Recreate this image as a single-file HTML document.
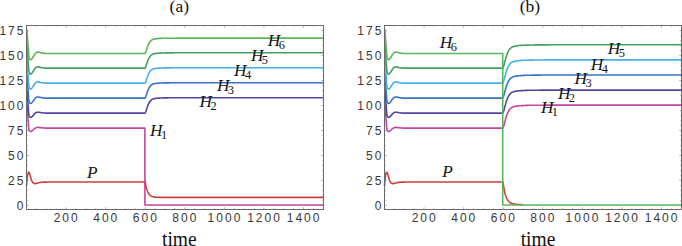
<!DOCTYPE html>
<html><head><meta charset="utf-8"><style>
html,body{margin:0;padding:0;background:#fff;}
body{width:682px;height:246px;overflow:hidden;}
svg{display:block;}
.tl{font-family:"Liberation Sans",sans-serif;font-size:12px;fill:#383838;letter-spacing:2px;}
.hl{font-family:"Liberation Serif",serif;font-style:italic;font-size:16px;fill:#151515;}
.sb{font-size:11.5px;font-style:normal;}
.ti{font-family:"Liberation Serif",serif;font-size:17.5px;fill:#111;}
.xl{font-family:"Liberation Serif",serif;font-size:19.5px;fill:#111;}
</style></head><body>
<svg width="682" height="246" viewBox="0 0 682 246">
<path d="M36.39 209.50 V208.30 M36.39 25.50 V26.70 M46.29 209.50 V208.30 M46.29 25.50 V26.70 M56.18 209.50 V208.30 M56.18 25.50 V26.70 M66.07 209.50 V207.30 M66.07 25.50 V27.70 M75.97 209.50 V208.30 M75.97 25.50 V26.70 M85.86 209.50 V208.30 M85.86 25.50 V26.70 M95.75 209.50 V208.30 M95.75 25.50 V26.70 M105.65 209.50 V207.30 M105.65 25.50 V27.70 M115.54 209.50 V208.30 M115.54 25.50 V26.70 M125.43 209.50 V208.30 M125.43 25.50 V26.70 M135.33 209.50 V208.30 M135.33 25.50 V26.70 M145.22 209.50 V207.30 M145.22 25.50 V27.70 M155.11 209.50 V208.30 M155.11 25.50 V26.70 M165.01 209.50 V208.30 M165.01 25.50 V26.70 M174.90 209.50 V208.30 M174.90 25.50 V26.70 M184.79 209.50 V207.30 M184.79 25.50 V27.70 M194.69 209.50 V208.30 M194.69 25.50 V26.70 M204.58 209.50 V208.30 M204.58 25.50 V26.70 M214.47 209.50 V208.30 M214.47 25.50 V26.70 M224.37 209.50 V207.30 M224.37 25.50 V27.70 M234.26 209.50 V208.30 M234.26 25.50 V26.70 M244.15 209.50 V208.30 M244.15 25.50 V26.70 M254.05 209.50 V208.30 M254.05 25.50 V26.70 M263.94 209.50 V207.30 M263.94 25.50 V27.70 M273.83 209.50 V208.30 M273.83 25.50 V26.70 M283.73 209.50 V208.30 M283.73 25.50 V26.70 M293.62 209.50 V208.30 M293.62 25.50 V26.70 M303.51 209.50 V207.30 M303.51 25.50 V27.70 M313.41 209.50 V208.30 M313.41 25.50 V26.70 M26.50 205.40 H28.70 M323.50 205.40 H321.30 M26.50 200.41 H27.70 M323.50 200.41 H322.30 M26.50 195.41 H27.70 M323.50 195.41 H322.30 M26.50 190.41 H27.70 M323.50 190.41 H322.30 M26.50 185.42 H27.70 M323.50 185.42 H322.30 M26.50 180.43 H28.70 M323.50 180.43 H321.30 M26.50 175.43 H27.70 M323.50 175.43 H322.30 M26.50 170.44 H27.70 M323.50 170.44 H322.30 M26.50 165.44 H27.70 M323.50 165.44 H322.30 M26.50 160.45 H27.70 M323.50 160.45 H322.30 M26.50 155.45 H28.70 M323.50 155.45 H321.30 M26.50 150.46 H27.70 M323.50 150.46 H322.30 M26.50 145.46 H27.70 M323.50 145.46 H322.30 M26.50 140.47 H27.70 M323.50 140.47 H322.30 M26.50 135.47 H27.70 M323.50 135.47 H322.30 M26.50 130.47 H28.70 M323.50 130.47 H321.30 M26.50 125.48 H27.70 M323.50 125.48 H322.30 M26.50 120.48 H27.70 M323.50 120.48 H322.30 M26.50 115.49 H27.70 M323.50 115.49 H322.30 M26.50 110.50 H27.70 M323.50 110.50 H322.30 M26.50 105.50 H28.70 M323.50 105.50 H321.30 M26.50 100.51 H27.70 M323.50 100.51 H322.30 M26.50 95.51 H27.70 M323.50 95.51 H322.30 M26.50 90.52 H27.70 M323.50 90.52 H322.30 M26.50 85.52 H27.70 M323.50 85.52 H322.30 M26.50 80.53 H28.70 M323.50 80.53 H321.30 M26.50 75.53 H27.70 M323.50 75.53 H322.30 M26.50 70.53 H27.70 M323.50 70.53 H322.30 M26.50 65.54 H27.70 M323.50 65.54 H322.30 M26.50 60.55 H27.70 M323.50 60.55 H322.30 M26.50 55.55 H28.70 M323.50 55.55 H321.30 M26.50 50.55 H27.70 M323.50 50.55 H322.30 M26.50 45.56 H27.70 M323.50 45.56 H322.30 M26.50 40.56 H27.70 M323.50 40.56 H322.30 M26.50 35.57 H27.70 M323.50 35.57 H322.30 M26.50 30.58 H28.70 M323.50 30.58 H321.30" stroke="#999" stroke-width="0.8" fill="none"/>
<g fill="none" stroke-width="1.60" stroke-linejoin="round">
<path stroke="#c246a0" d="M26.5 103.8 L26.7 104.2 L26.9 104.8 L27.1 106.7 L27.3 109.9 L27.5 113.0 L27.7 115.5 L27.9 117.8 L28.1 120.1 L28.3 122.8 L28.5 125.7 L28.7 128.2 L28.9 129.6 L29.1 130.1 L29.3 130.5 L29.5 130.8 L29.7 131.0 L29.9 131.2 L30.1 131.3 L30.3 131.4 L30.5 131.5 L30.7 131.5 L30.9 131.4 L31.1 131.4 L31.2 131.3 L31.4 131.2 L31.6 131.1 L31.8 131.0 L32.0 130.8 L32.2 130.7 L32.4 130.5 L32.6 130.4 L32.8 130.2 L33.0 130.0 L33.2 129.9 L33.4 129.7 L33.6 129.5 L33.8 129.3 L34.0 129.1 L34.2 129.0 L34.4 128.8 L34.6 128.6 L34.8 128.5 L35.0 128.3 L35.2 128.2 L35.4 128.1 L35.6 128.0 L35.8 127.8 L36.0 127.7 L36.2 127.7 L36.4 127.6 L36.6 127.6 L36.8 127.5 L37.0 127.5 L37.2 127.4 L37.4 127.4 L37.6 127.4 L37.8 127.4 L38.0 127.4 L38.2 127.4 L38.4 127.4 L38.6 127.4 L38.8 127.4 L39.0 127.4 L39.2 127.5 L39.4 127.5 L39.6 127.5 L39.8 127.5 L40.0 127.6 L40.2 127.6 L40.4 127.6 L40.5 127.7 L40.7 127.7 L40.9 127.7 L41.1 127.7 L41.3 127.8 L41.5 127.8 L41.7 127.8 L41.9 127.9 L42.1 127.9 L42.3 127.9 L42.5 127.9 L42.7 127.9 L42.9 128.0 L43.1 128.0 L43.3 128.0 L43.5 128.0 L43.7 128.0 L43.9 128.0 L44.1 128.0 L44.3 128.0 L44.5 128.0 L44.7 128.0 L44.9 128.1 L45.1 128.1 L45.3 128.1 L45.5 128.1 L45.7 128.1 L45.9 128.1 L46.1 128.1 L46.3 128.1 L46.5 128.1 L46.7 128.1 L46.9 128.1 L47.1 128.1 L47.3 128.1 L47.5 128.1 L47.7 128.1 L47.9 128.1 L48.1 128.1 L48.3 128.1 L48.5 128.1 L48.7 128.1 L48.9 128.1 L49.1 128.1 L49.3 128.1 L49.5 128.1 L49.7 128.1 L49.8 128.1 L50.0 128.1 L50.2 128.1 L54.2 128.1 L58.2 128.1 L62.1 128.1 L66.1 128.1 L70.0 128.1 L74.0 128.1 L77.9 128.1 L81.9 128.1 L85.9 128.1 L89.8 128.1 L93.8 128.1 L97.7 128.1 L101.7 128.1 L105.6 128.1 L109.6 128.1 L113.6 128.1 L117.5 128.1 L121.5 128.1 L125.4 128.1 L129.4 128.1 L133.3 128.1 L137.3 128.1 L141.3 128.1 L144.9 128.1 L144.9 205.0 L145.1 205.0 L145.3 205.0 L145.5 205.0 L145.7 205.0 L145.9 205.0 L146.1 205.0 L146.3 205.0 L146.5 205.0 L146.7 205.0 L146.9 205.0 L147.1 205.0 L147.3 205.0 L147.5 205.0 L147.7 205.0 L147.9 205.0 L148.1 205.0 L148.3 205.0 L148.5 205.0 L148.7 205.0 L148.9 205.0 L149.1 205.0 L149.3 205.0 L149.5 205.0 L149.7 205.0 L149.9 205.0 L150.1 205.0 L150.3 205.0 L150.5 205.0 L150.7 205.0 L150.9 205.0 L151.1 205.0 L151.3 205.0 L151.5 205.0 L151.7 205.0 L151.8 205.0 L152.0 205.0 L152.2 205.0 L152.4 205.0 L152.6 205.0 L152.8 205.0 L153.0 205.0 L153.2 205.0 L153.4 205.0 L153.6 205.0 L153.8 205.0 L154.0 205.0 L154.2 205.0 L154.4 205.0 L154.6 205.0 L154.8 205.0 L155.0 205.0 L155.2 205.0 L155.4 205.0 L155.6 205.0 L155.8 205.0 L156.0 205.0 L156.2 205.0 L156.4 205.0 L156.6 205.0 L156.8 205.0 L157.0 205.0 L157.2 205.0 L157.4 205.0 L157.6 205.0 L157.8 205.0 L158.0 205.0 L158.2 205.0 L158.4 205.0 L158.6 205.0 L158.8 205.0 L159.0 205.0 L159.2 205.0 L159.4 205.0 L159.6 205.0 L159.8 205.0 L160.0 205.0 L160.2 205.0 L160.4 205.0 L160.6 205.0 L160.8 205.0 L161.0 205.0 L161.1 205.0 L161.3 205.0 L161.5 205.0 L161.7 205.0 L161.9 205.0 L162.1 205.0 L162.3 205.0 L162.5 205.0 L162.7 205.0 L162.9 205.0 L163.1 205.0 L163.3 205.0 L163.5 205.0 L163.7 205.0 L163.9 205.0 L164.1 205.0 L164.3 205.0 L164.5 205.0 L164.7 205.0 L164.9 205.0 L165.1 205.0 L165.3 205.0 L165.5 205.0 L165.7 205.0 L165.9 205.0 L166.1 205.0 L166.3 205.0 L166.5 205.0 L166.7 205.0 L166.9 205.0 L167.1 205.0 L167.3 205.0 L167.5 205.0 L167.7 205.0 L167.9 205.0 L168.1 205.0 L168.3 205.0 L168.5 205.0 L168.7 205.0 L168.9 205.0 L169.1 205.0 L169.3 205.0 L169.5 205.0 L169.7 205.0 L169.9 205.0 L170.1 205.0 L170.3 205.0 L170.4 205.0 L170.6 205.0 L170.8 205.0 L171.0 205.0 L171.2 205.0 L171.4 205.0 L171.6 205.0 L171.8 205.0 L172.0 205.0 L172.2 205.0 L172.4 205.0 L172.6 205.0 L172.8 205.0 L173.0 205.0 L173.2 205.0 L173.4 205.0 L173.6 205.0 L173.8 205.0 L174.0 205.0 L174.2 205.0 L174.4 205.0 L174.6 205.0 L174.8 205.0 L175.0 205.0 L175.2 205.0 L175.4 205.0 L175.6 205.0 L175.8 205.0 L176.0 205.0 L176.2 205.0 L176.4 205.0 L176.6 205.0 L176.8 205.0 L177.0 205.0 L177.2 205.0 L177.4 205.0 L177.6 205.0 L177.8 205.0 L178.0 205.0 L178.2 205.0 L178.4 205.0 L178.6 205.0 L178.8 205.0 L179.0 205.0 L179.2 205.0 L179.4 205.0 L179.5 205.0 L179.7 205.0 L179.9 205.0 L180.1 205.0 L180.3 205.0 L180.5 205.0 L180.7 205.0 L180.9 205.0 L181.1 205.0 L181.3 205.0 L181.5 205.0 L181.7 205.0 L181.9 205.0 L182.1 205.0 L182.3 205.0 L182.5 205.0 L182.7 205.0 L182.9 205.0 L183.1 205.0 L183.3 205.0 L183.5 205.0 L183.7 205.0 L183.9 205.0 L184.1 205.0 L184.3 205.0 L184.5 205.0 L188.5 205.0 L192.4 205.0 L196.4 205.0 L200.3 205.0 L204.3 205.0 L208.2 205.0 L212.2 205.0 L216.2 205.0 L220.1 205.0 L224.1 205.0 L228.0 205.0 L232.0 205.0 L235.9 205.0 L239.9 205.0 L243.9 205.0 L247.8 205.0 L251.8 205.0 L255.7 205.0 L259.7 205.0 L263.6 205.0 L267.6 205.0 L271.6 205.0 L275.5 205.0 L279.5 205.0 L283.4 205.0 L287.4 205.0 L291.3 205.0 L295.3 205.0 L299.3 205.0 L303.2 205.0 L307.2 205.0 L311.1 205.0 L315.1 205.0 L319.0 205.0 L323.0 205.0 L323.3 205.0"/>
<path stroke="#5045a4" d="M26.5 88.8 L26.7 89.2 L26.9 89.8 L27.1 91.7 L27.3 95.0 L27.5 98.0 L27.7 100.5 L27.9 102.7 L28.1 105.1 L28.3 107.9 L28.5 110.9 L28.7 113.5 L28.9 115.1 L29.1 115.7 L29.3 116.2 L29.5 116.6 L29.7 116.9 L29.9 117.1 L30.1 117.3 L30.3 117.4 L30.5 117.5 L30.7 117.5 L30.9 117.4 L31.1 117.3 L31.2 117.3 L31.4 117.2 L31.6 117.0 L31.8 116.8 L32.0 116.7 L32.2 116.5 L32.4 116.3 L32.6 116.1 L32.8 115.8 L33.0 115.6 L33.2 115.4 L33.4 115.2 L33.6 114.9 L33.8 114.7 L34.0 114.5 L34.2 114.2 L34.4 114.0 L34.6 113.8 L34.8 113.6 L35.0 113.4 L35.2 113.3 L35.4 113.1 L35.6 112.9 L35.8 112.8 L36.0 112.7 L36.2 112.6 L36.4 112.5 L36.6 112.4 L36.8 112.4 L37.0 112.3 L37.2 112.3 L37.4 112.2 L37.6 112.2 L37.8 112.2 L38.0 112.2 L38.2 112.2 L38.4 112.2 L38.6 112.2 L38.8 112.2 L39.0 112.3 L39.2 112.3 L39.4 112.3 L39.6 112.4 L39.8 112.4 L40.0 112.4 L40.2 112.5 L40.4 112.5 L40.5 112.5 L40.7 112.6 L40.9 112.6 L41.1 112.7 L41.3 112.7 L41.5 112.7 L41.7 112.8 L41.9 112.8 L42.1 112.8 L42.3 112.9 L42.5 112.9 L42.7 112.9 L42.9 112.9 L43.1 112.9 L43.3 113.0 L43.5 113.0 L43.7 113.0 L43.9 113.0 L44.1 113.0 L44.3 113.0 L44.5 113.0 L44.7 113.1 L44.9 113.1 L45.1 113.1 L45.3 113.1 L45.5 113.1 L45.7 113.1 L45.9 113.1 L46.1 113.1 L46.3 113.1 L46.5 113.1 L46.7 113.1 L46.9 113.1 L47.1 113.1 L47.3 113.1 L47.5 113.1 L47.7 113.1 L47.9 113.1 L48.1 113.1 L48.3 113.1 L48.5 113.1 L48.7 113.1 L48.9 113.1 L49.1 113.1 L49.3 113.1 L49.5 113.1 L49.7 113.1 L49.8 113.1 L50.0 113.1 L50.2 113.1 L54.2 113.1 L58.2 113.1 L62.1 113.1 L66.1 113.1 L70.0 113.1 L74.0 113.1 L77.9 113.1 L81.9 113.1 L85.9 113.1 L89.8 113.1 L93.8 113.1 L97.7 113.1 L101.7 113.1 L105.6 113.1 L109.6 113.1 L113.6 113.1 L117.5 113.1 L121.5 113.1 L125.4 113.1 L129.4 113.1 L133.3 113.1 L137.3 113.1 L141.3 113.1 L144.9 113.1 L144.9 113.1 L145.1 113.0 L145.3 112.7 L145.5 112.3 L145.7 111.8 L145.9 111.3 L146.1 110.7 L146.3 110.1 L146.5 109.5 L146.7 108.9 L146.9 108.2 L147.1 107.6 L147.3 107.1 L147.5 106.5 L147.7 105.9 L147.9 105.4 L148.1 104.9 L148.3 104.4 L148.5 104.0 L148.7 103.6 L148.9 103.2 L149.1 102.8 L149.3 102.5 L149.5 102.1 L149.7 101.8 L149.9 101.6 L150.1 101.3 L150.3 101.0 L150.5 100.8 L150.7 100.6 L150.9 100.4 L151.1 100.2 L151.3 100.1 L151.5 99.9 L151.7 99.8 L151.8 99.6 L152.0 99.5 L152.2 99.4 L152.4 99.3 L152.6 99.2 L152.8 99.1 L153.0 99.0 L153.2 99.0 L153.4 98.9 L153.6 98.8 L153.8 98.8 L154.0 98.7 L154.2 98.7 L154.4 98.6 L154.6 98.6 L154.8 98.5 L155.0 98.5 L155.2 98.5 L155.4 98.4 L155.6 98.4 L155.8 98.4 L156.0 98.4 L156.2 98.3 L156.4 98.3 L156.6 98.3 L156.8 98.3 L157.0 98.2 L157.2 98.2 L157.4 98.2 L157.6 98.2 L157.8 98.2 L158.0 98.2 L158.2 98.1 L158.4 98.1 L158.6 98.1 L158.8 98.1 L159.0 98.1 L159.2 98.1 L159.4 98.1 L159.6 98.1 L159.8 98.1 L160.0 98.1 L160.2 98.0 L160.4 98.0 L160.6 98.0 L160.8 98.0 L161.0 98.0 L161.1 98.0 L161.3 98.0 L161.5 98.0 L161.7 98.0 L161.9 98.0 L162.1 98.0 L162.3 98.0 L162.5 98.0 L162.7 98.0 L162.9 98.0 L163.1 97.9 L163.3 97.9 L163.5 97.9 L163.7 97.9 L163.9 97.9 L164.1 97.9 L164.3 97.9 L164.5 97.9 L164.7 97.9 L164.9 97.9 L165.1 97.9 L165.3 97.9 L165.5 97.9 L165.7 97.9 L165.9 97.9 L166.1 97.9 L166.3 97.9 L166.5 97.9 L166.7 97.9 L166.9 97.9 L167.1 97.9 L167.3 97.9 L167.5 97.9 L167.7 97.9 L167.9 97.9 L168.1 97.9 L168.3 97.9 L168.5 97.9 L168.7 97.8 L168.9 97.8 L169.1 97.8 L169.3 97.8 L169.5 97.8 L169.7 97.8 L169.9 97.8 L170.1 97.8 L170.3 97.8 L170.4 97.8 L170.6 97.8 L170.8 97.8 L171.0 97.8 L171.2 97.8 L171.4 97.8 L171.6 97.8 L171.8 97.8 L172.0 97.8 L172.2 97.8 L172.4 97.8 L172.6 97.8 L172.8 97.8 L173.0 97.8 L173.2 97.8 L173.4 97.8 L173.6 97.8 L173.8 97.8 L174.0 97.8 L174.2 97.8 L174.4 97.8 L174.6 97.8 L174.8 97.8 L175.0 97.8 L175.2 97.8 L175.4 97.8 L175.6 97.8 L175.8 97.8 L176.0 97.8 L176.2 97.8 L176.4 97.8 L176.6 97.8 L176.8 97.8 L177.0 97.8 L177.2 97.8 L177.4 97.8 L177.6 97.8 L177.8 97.8 L178.0 97.8 L178.2 97.8 L178.4 97.8 L178.6 97.8 L178.8 97.8 L179.0 97.8 L179.2 97.8 L179.4 97.8 L179.5 97.8 L179.7 97.8 L179.9 97.8 L180.1 97.8 L180.3 97.8 L180.5 97.8 L180.7 97.8 L180.9 97.8 L181.1 97.8 L181.3 97.8 L181.5 97.8 L181.7 97.8 L181.9 97.8 L182.1 97.8 L182.3 97.8 L182.5 97.8 L182.7 97.8 L182.9 97.8 L183.1 97.8 L183.3 97.8 L183.5 97.8 L183.7 97.8 L183.9 97.8 L184.1 97.8 L184.3 97.8 L184.5 97.8 L188.5 97.8 L192.4 97.8 L196.4 97.8 L200.3 97.8 L204.3 97.8 L208.2 97.8 L212.2 97.8 L216.2 97.8 L220.1 97.8 L224.1 97.8 L228.0 97.8 L232.0 97.8 L235.9 97.8 L239.9 97.8 L243.9 97.8 L247.8 97.8 L251.8 97.8 L255.7 97.8 L259.7 97.8 L263.6 97.8 L267.6 97.8 L271.6 97.8 L275.5 97.8 L279.5 97.8 L283.4 97.8 L287.4 97.8 L291.3 97.8 L295.3 97.8 L299.3 97.8 L303.2 97.8 L307.2 97.8 L311.1 97.8 L315.1 97.8 L319.0 97.8 L323.0 97.8 L323.3 97.8"/>
<path stroke="#3574c4" d="M26.5 73.8 L26.7 74.2 L26.9 74.8 L27.1 76.7 L27.3 80.0 L27.5 83.1 L27.7 85.5 L27.9 87.7 L28.1 90.1 L28.3 92.9 L28.5 96.1 L28.7 98.9 L28.9 100.5 L29.1 101.3 L29.3 102.0 L29.5 102.4 L29.7 102.7 L29.9 103.0 L30.1 103.3 L30.3 103.4 L30.5 103.5 L30.7 103.5 L30.9 103.4 L31.1 103.3 L31.2 103.2 L31.4 103.1 L31.6 102.9 L31.8 102.7 L32.0 102.5 L32.2 102.2 L32.4 102.0 L32.6 101.7 L32.8 101.5 L33.0 101.2 L33.2 100.9 L33.4 100.6 L33.6 100.4 L33.8 100.1 L34.0 99.8 L34.2 99.5 L34.4 99.2 L34.6 99.0 L34.8 98.8 L35.0 98.5 L35.2 98.3 L35.4 98.1 L35.6 97.9 L35.8 97.7 L36.0 97.6 L36.2 97.4 L36.4 97.4 L36.6 97.3 L36.8 97.2 L37.0 97.1 L37.2 97.1 L37.4 97.0 L37.6 97.0 L37.8 97.0 L38.0 97.0 L38.2 97.0 L38.4 97.0 L38.6 97.0 L38.8 97.1 L39.0 97.1 L39.2 97.1 L39.4 97.2 L39.6 97.2 L39.8 97.3 L40.0 97.3 L40.2 97.3 L40.4 97.4 L40.5 97.4 L40.7 97.5 L40.9 97.5 L41.1 97.6 L41.3 97.6 L41.5 97.7 L41.7 97.7 L41.9 97.8 L42.1 97.8 L42.3 97.8 L42.5 97.9 L42.7 97.9 L42.9 97.9 L43.1 97.9 L43.3 97.9 L43.5 98.0 L43.7 98.0 L43.9 98.0 L44.1 98.0 L44.3 98.0 L44.5 98.0 L44.7 98.1 L44.9 98.1 L45.1 98.1 L45.3 98.1 L45.5 98.1 L45.7 98.1 L45.9 98.1 L46.1 98.1 L46.3 98.1 L46.5 98.1 L46.7 98.1 L46.9 98.1 L47.1 98.1 L47.3 98.1 L47.5 98.1 L47.7 98.1 L47.9 98.1 L48.1 98.1 L48.3 98.1 L48.5 98.1 L48.7 98.1 L48.9 98.1 L49.1 98.1 L49.3 98.1 L49.5 98.1 L49.7 98.1 L49.8 98.1 L50.0 98.1 L50.2 98.1 L54.2 98.1 L58.2 98.1 L62.1 98.1 L66.1 98.1 L70.0 98.1 L74.0 98.1 L77.9 98.1 L81.9 98.1 L85.9 98.1 L89.8 98.1 L93.8 98.1 L97.7 98.1 L101.7 98.1 L105.6 98.1 L109.6 98.1 L113.6 98.1 L117.5 98.1 L121.5 98.1 L125.4 98.1 L129.4 98.1 L133.3 98.1 L137.3 98.1 L141.3 98.1 L144.9 98.1 L144.9 98.1 L145.1 98.0 L145.3 97.7 L145.5 97.3 L145.7 96.8 L145.9 96.3 L146.1 95.7 L146.3 95.1 L146.5 94.5 L146.7 93.9 L146.9 93.3 L147.1 92.7 L147.3 92.1 L147.5 91.5 L147.7 90.9 L147.9 90.4 L148.1 89.9 L148.3 89.5 L148.5 89.0 L148.7 88.6 L148.9 88.2 L149.1 87.8 L149.3 87.5 L149.5 87.1 L149.7 86.8 L149.9 86.6 L150.1 86.3 L150.3 86.1 L150.5 85.8 L150.7 85.6 L150.9 85.4 L151.1 85.3 L151.3 85.1 L151.5 84.9 L151.7 84.8 L151.8 84.7 L152.0 84.5 L152.2 84.4 L152.4 84.3 L152.6 84.2 L152.8 84.1 L153.0 84.1 L153.2 84.0 L153.4 83.9 L153.6 83.9 L153.8 83.8 L154.0 83.7 L154.2 83.7 L154.4 83.6 L154.6 83.6 L154.8 83.6 L155.0 83.5 L155.2 83.5 L155.4 83.5 L155.6 83.4 L155.8 83.4 L156.0 83.4 L156.2 83.3 L156.4 83.3 L156.6 83.3 L156.8 83.3 L157.0 83.3 L157.2 83.2 L157.4 83.2 L157.6 83.2 L157.8 83.2 L158.0 83.2 L158.2 83.2 L158.4 83.1 L158.6 83.1 L158.8 83.1 L159.0 83.1 L159.2 83.1 L159.4 83.1 L159.6 83.1 L159.8 83.1 L160.0 83.1 L160.2 83.1 L160.4 83.0 L160.6 83.0 L160.8 83.0 L161.0 83.0 L161.1 83.0 L161.3 83.0 L161.5 83.0 L161.7 83.0 L161.9 83.0 L162.1 83.0 L162.3 83.0 L162.5 83.0 L162.7 83.0 L162.9 83.0 L163.1 83.0 L163.3 83.0 L163.5 83.0 L163.7 82.9 L163.9 82.9 L164.1 82.9 L164.3 82.9 L164.5 82.9 L164.7 82.9 L164.9 82.9 L165.1 82.9 L165.3 82.9 L165.5 82.9 L165.7 82.9 L165.9 82.9 L166.1 82.9 L166.3 82.9 L166.5 82.9 L166.7 82.9 L166.9 82.9 L167.1 82.9 L167.3 82.9 L167.5 82.9 L167.7 82.9 L167.9 82.9 L168.1 82.9 L168.3 82.9 L168.5 82.9 L168.7 82.9 L168.9 82.9 L169.1 82.9 L169.3 82.9 L169.5 82.9 L169.7 82.9 L169.9 82.9 L170.1 82.8 L170.3 82.8 L170.4 82.8 L170.6 82.8 L170.8 82.8 L171.0 82.8 L171.2 82.8 L171.4 82.8 L171.6 82.8 L171.8 82.8 L172.0 82.8 L172.2 82.8 L172.4 82.8 L172.6 82.8 L172.8 82.8 L173.0 82.8 L173.2 82.8 L173.4 82.8 L173.6 82.8 L173.8 82.8 L174.0 82.8 L174.2 82.8 L174.4 82.8 L174.6 82.8 L174.8 82.8 L175.0 82.8 L175.2 82.8 L175.4 82.8 L175.6 82.8 L175.8 82.8 L176.0 82.8 L176.2 82.8 L176.4 82.8 L176.6 82.8 L176.8 82.8 L177.0 82.8 L177.2 82.8 L177.4 82.8 L177.6 82.8 L177.8 82.8 L178.0 82.8 L178.2 82.8 L178.4 82.8 L178.6 82.8 L178.8 82.8 L179.0 82.8 L179.2 82.8 L179.4 82.8 L179.5 82.8 L179.7 82.8 L179.9 82.8 L180.1 82.8 L180.3 82.8 L180.5 82.8 L180.7 82.8 L180.9 82.8 L181.1 82.8 L181.3 82.8 L181.5 82.8 L181.7 82.8 L181.9 82.8 L182.1 82.8 L182.3 82.8 L182.5 82.8 L182.7 82.8 L182.9 82.8 L183.1 82.8 L183.3 82.8 L183.5 82.8 L183.7 82.8 L183.9 82.8 L184.1 82.8 L184.3 82.8 L184.5 82.8 L188.5 82.8 L192.4 82.8 L196.4 82.8 L200.3 82.8 L204.3 82.8 L208.2 82.8 L212.2 82.8 L216.2 82.8 L220.1 82.8 L224.1 82.8 L228.0 82.8 L232.0 82.8 L235.9 82.8 L239.9 82.8 L243.9 82.8 L247.8 82.8 L251.8 82.8 L255.7 82.8 L259.7 82.8 L263.6 82.8 L267.6 82.8 L271.6 82.8 L275.5 82.8 L279.5 82.8 L283.4 82.8 L287.4 82.8 L291.3 82.8 L295.3 82.8 L299.3 82.8 L303.2 82.8 L307.2 82.8 L311.1 82.8 L315.1 82.8 L319.0 82.8 L323.0 82.8 L323.3 82.8"/>
<path stroke="#44b0ea" d="M26.5 58.8 L26.7 59.3 L26.9 59.8 L27.1 61.7 L27.3 65.0 L27.5 68.1 L27.7 70.5 L27.9 72.7 L28.1 75.1 L28.3 78.0 L28.5 81.2 L28.7 84.1 L28.9 85.8 L29.1 86.7 L29.3 87.4 L29.5 87.9 L29.7 88.3 L29.9 88.6 L30.1 88.9 L30.3 89.0 L30.5 89.1 L30.7 89.1 L30.9 89.0 L31.1 88.9 L31.2 88.8 L31.4 88.7 L31.6 88.5 L31.8 88.2 L32.0 88.0 L32.2 87.7 L32.4 87.4 L32.6 87.2 L32.8 86.9 L33.0 86.6 L33.2 86.3 L33.4 85.9 L33.6 85.6 L33.8 85.3 L34.0 85.0 L34.2 84.7 L34.4 84.4 L34.6 84.1 L34.8 83.8 L35.0 83.6 L35.2 83.4 L35.4 83.1 L35.6 82.9 L35.8 82.7 L36.0 82.5 L36.2 82.4 L36.4 82.3 L36.6 82.2 L36.8 82.1 L37.0 82.1 L37.2 82.0 L37.4 81.9 L37.6 81.9 L37.8 81.9 L38.0 81.9 L38.2 81.9 L38.4 81.9 L38.6 81.9 L38.8 81.9 L39.0 82.0 L39.2 82.0 L39.4 82.1 L39.6 82.1 L39.8 82.2 L40.0 82.2 L40.2 82.3 L40.4 82.3 L40.5 82.4 L40.7 82.4 L40.9 82.5 L41.1 82.5 L41.3 82.6 L41.5 82.7 L41.7 82.7 L41.9 82.7 L42.1 82.8 L42.3 82.8 L42.5 82.9 L42.7 82.9 L42.9 82.9 L43.1 82.9 L43.3 82.9 L43.5 83.0 L43.7 83.0 L43.9 83.0 L44.1 83.0 L44.3 83.0 L44.5 83.0 L44.7 83.1 L44.9 83.1 L45.1 83.1 L45.3 83.1 L45.5 83.1 L45.7 83.1 L45.9 83.1 L46.1 83.1 L46.3 83.1 L46.5 83.1 L46.7 83.1 L46.9 83.1 L47.1 83.1 L47.3 83.1 L47.5 83.1 L47.7 83.1 L47.9 83.1 L48.1 83.1 L48.3 83.1 L48.5 83.1 L48.7 83.1 L48.9 83.1 L49.1 83.1 L49.3 83.1 L49.5 83.1 L49.7 83.1 L49.8 83.1 L50.0 83.1 L50.2 83.1 L54.2 83.1 L58.2 83.1 L62.1 83.1 L66.1 83.1 L70.0 83.1 L74.0 83.1 L77.9 83.1 L81.9 83.1 L85.9 83.1 L89.8 83.1 L93.8 83.1 L97.7 83.1 L101.7 83.1 L105.6 83.1 L109.6 83.1 L113.6 83.1 L117.5 83.1 L121.5 83.1 L125.4 83.1 L129.4 83.1 L133.3 83.1 L137.3 83.1 L141.3 83.1 L144.9 83.1 L144.9 83.1 L145.1 83.0 L145.3 82.7 L145.5 82.3 L145.7 81.8 L145.9 81.3 L146.1 80.7 L146.3 80.1 L146.5 79.5 L146.7 78.9 L146.9 78.3 L147.1 77.7 L147.3 77.1 L147.5 76.5 L147.7 76.0 L147.9 75.4 L148.1 74.9 L148.3 74.5 L148.5 74.0 L148.7 73.6 L148.9 73.2 L149.1 72.8 L149.3 72.5 L149.5 72.2 L149.7 71.9 L149.9 71.6 L150.1 71.3 L150.3 71.1 L150.5 70.9 L150.7 70.6 L150.9 70.4 L151.1 70.3 L151.3 70.1 L151.5 70.0 L151.7 69.8 L151.8 69.7 L152.0 69.6 L152.2 69.4 L152.4 69.3 L152.6 69.2 L152.8 69.2 L153.0 69.1 L153.2 69.0 L153.4 68.9 L153.6 68.9 L153.8 68.8 L154.0 68.8 L154.2 68.7 L154.4 68.7 L154.6 68.6 L154.8 68.6 L155.0 68.5 L155.2 68.5 L155.4 68.5 L155.6 68.4 L155.8 68.4 L156.0 68.4 L156.2 68.4 L156.4 68.3 L156.6 68.3 L156.8 68.3 L157.0 68.3 L157.2 68.3 L157.4 68.2 L157.6 68.2 L157.8 68.2 L158.0 68.2 L158.2 68.2 L158.4 68.2 L158.6 68.2 L158.8 68.1 L159.0 68.1 L159.2 68.1 L159.4 68.1 L159.6 68.1 L159.8 68.1 L160.0 68.1 L160.2 68.1 L160.4 68.1 L160.6 68.1 L160.8 68.0 L161.0 68.0 L161.1 68.0 L161.3 68.0 L161.5 68.0 L161.7 68.0 L161.9 68.0 L162.1 68.0 L162.3 68.0 L162.5 68.0 L162.7 68.0 L162.9 68.0 L163.1 68.0 L163.3 68.0 L163.5 68.0 L163.7 68.0 L163.9 68.0 L164.1 68.0 L164.3 67.9 L164.5 67.9 L164.7 67.9 L164.9 67.9 L165.1 67.9 L165.3 67.9 L165.5 67.9 L165.7 67.9 L165.9 67.9 L166.1 67.9 L166.3 67.9 L166.5 67.9 L166.7 67.9 L166.9 67.9 L167.1 67.9 L167.3 67.9 L167.5 67.9 L167.7 67.9 L167.9 67.9 L168.1 67.9 L168.3 67.9 L168.5 67.9 L168.7 67.9 L168.9 67.9 L169.1 67.9 L169.3 67.9 L169.5 67.9 L169.7 67.9 L169.9 67.9 L170.1 67.9 L170.3 67.9 L170.4 67.9 L170.6 67.9 L170.8 67.9 L171.0 67.9 L171.2 67.9 L171.4 67.9 L171.6 67.9 L171.8 67.8 L172.0 67.8 L172.2 67.8 L172.4 67.8 L172.6 67.8 L172.8 67.8 L173.0 67.8 L173.2 67.8 L173.4 67.8 L173.6 67.8 L173.8 67.8 L174.0 67.8 L174.2 67.8 L174.4 67.8 L174.6 67.8 L174.8 67.8 L175.0 67.8 L175.2 67.8 L175.4 67.8 L175.6 67.8 L175.8 67.8 L176.0 67.8 L176.2 67.8 L176.4 67.8 L176.6 67.8 L176.8 67.8 L177.0 67.8 L177.2 67.8 L177.4 67.8 L177.6 67.8 L177.8 67.8 L178.0 67.8 L178.2 67.8 L178.4 67.8 L178.6 67.8 L178.8 67.8 L179.0 67.8 L179.2 67.8 L179.4 67.8 L179.5 67.8 L179.7 67.8 L179.9 67.8 L180.1 67.8 L180.3 67.8 L180.5 67.8 L180.7 67.8 L180.9 67.8 L181.1 67.8 L181.3 67.8 L181.5 67.8 L181.7 67.8 L181.9 67.8 L182.1 67.8 L182.3 67.8 L182.5 67.8 L182.7 67.8 L182.9 67.8 L183.1 67.8 L183.3 67.8 L183.5 67.8 L183.7 67.8 L183.9 67.8 L184.1 67.8 L184.3 67.8 L184.5 67.8 L188.5 67.8 L192.4 67.8 L196.4 67.8 L200.3 67.8 L204.3 67.8 L208.2 67.8 L212.2 67.8 L216.2 67.8 L220.1 67.8 L224.1 67.8 L228.0 67.8 L232.0 67.8 L235.9 67.8 L239.9 67.8 L243.9 67.8 L247.8 67.8 L251.8 67.8 L255.7 67.8 L259.7 67.8 L263.6 67.8 L267.6 67.8 L271.6 67.8 L275.5 67.8 L279.5 67.8 L283.4 67.8 L287.4 67.8 L291.3 67.8 L295.3 67.8 L299.3 67.8 L303.2 67.8 L307.2 67.8 L311.1 67.8 L315.1 67.8 L319.0 67.8 L323.0 67.8 L323.3 67.8"/>
<path stroke="#40a25e" d="M26.5 43.9 L26.7 44.3 L26.9 44.8 L27.1 46.8 L27.3 50.0 L27.5 53.1 L27.7 55.5 L27.9 57.8 L28.1 60.1 L28.3 63.0 L28.5 66.2 L28.7 69.1 L28.9 70.8 L29.1 71.7 L29.3 72.4 L29.5 72.9 L29.7 73.3 L29.9 73.6 L30.1 73.9 L30.3 74.1 L30.5 74.1 L30.7 74.1 L30.9 74.0 L31.1 73.9 L31.2 73.8 L31.4 73.7 L31.6 73.5 L31.8 73.3 L32.0 73.0 L32.2 72.7 L32.4 72.5 L32.6 72.2 L32.8 71.9 L33.0 71.6 L33.2 71.3 L33.4 71.0 L33.6 70.7 L33.8 70.3 L34.0 70.0 L34.2 69.7 L34.4 69.4 L34.6 69.1 L34.8 68.9 L35.0 68.6 L35.2 68.4 L35.4 68.1 L35.6 67.9 L35.8 67.7 L36.0 67.5 L36.2 67.4 L36.4 67.3 L36.6 67.2 L36.8 67.1 L37.0 67.1 L37.2 67.0 L37.4 67.0 L37.6 66.9 L37.8 66.9 L38.0 66.9 L38.2 66.9 L38.4 66.9 L38.6 66.9 L38.8 67.0 L39.0 67.0 L39.2 67.1 L39.4 67.1 L39.6 67.1 L39.8 67.2 L40.0 67.2 L40.2 67.3 L40.4 67.3 L40.5 67.4 L40.7 67.4 L40.9 67.5 L41.1 67.6 L41.3 67.6 L41.5 67.7 L41.7 67.7 L41.9 67.8 L42.1 67.8 L42.3 67.8 L42.5 67.9 L42.7 67.9 L42.9 67.9 L43.1 67.9 L43.3 68.0 L43.5 68.0 L43.7 68.0 L43.9 68.0 L44.1 68.0 L44.3 68.0 L44.5 68.1 L44.7 68.1 L44.9 68.1 L45.1 68.1 L45.3 68.1 L45.5 68.1 L45.7 68.1 L45.9 68.1 L46.1 68.1 L46.3 68.1 L46.5 68.1 L46.7 68.1 L46.9 68.1 L47.1 68.1 L47.3 68.1 L47.5 68.1 L47.7 68.1 L47.9 68.1 L48.1 68.1 L48.3 68.1 L48.5 68.1 L48.7 68.1 L48.9 68.1 L49.1 68.1 L49.3 68.1 L49.5 68.1 L49.7 68.1 L49.8 68.1 L50.0 68.1 L50.2 68.1 L54.2 68.1 L58.2 68.1 L62.1 68.1 L66.1 68.1 L70.0 68.1 L74.0 68.1 L77.9 68.1 L81.9 68.1 L85.9 68.1 L89.8 68.1 L93.8 68.1 L97.7 68.1 L101.7 68.1 L105.6 68.1 L109.6 68.1 L113.6 68.1 L117.5 68.1 L121.5 68.1 L125.4 68.1 L129.4 68.1 L133.3 68.1 L137.3 68.1 L141.3 68.1 L144.9 68.1 L144.9 68.1 L145.1 68.0 L145.3 67.7 L145.5 67.3 L145.7 66.9 L145.9 66.3 L146.1 65.8 L146.3 65.1 L146.5 64.5 L146.7 63.9 L146.9 63.3 L147.1 62.7 L147.3 62.1 L147.5 61.5 L147.7 61.0 L147.9 60.5 L148.1 60.0 L148.3 59.5 L148.5 59.0 L148.7 58.6 L148.9 58.2 L149.1 57.9 L149.3 57.5 L149.5 57.2 L149.7 56.9 L149.9 56.6 L150.1 56.3 L150.3 56.1 L150.5 55.9 L150.7 55.7 L150.9 55.5 L151.1 55.3 L151.3 55.1 L151.5 55.0 L151.7 54.8 L151.8 54.7 L152.0 54.6 L152.2 54.5 L152.4 54.4 L152.6 54.3 L152.8 54.2 L153.0 54.1 L153.2 54.0 L153.4 53.9 L153.6 53.9 L153.8 53.8 L154.0 53.8 L154.2 53.7 L154.4 53.7 L154.6 53.6 L154.8 53.6 L155.0 53.6 L155.2 53.5 L155.4 53.5 L155.6 53.5 L155.8 53.4 L156.0 53.4 L156.2 53.4 L156.4 53.3 L156.6 53.3 L156.8 53.3 L157.0 53.3 L157.2 53.3 L157.4 53.3 L157.6 53.2 L157.8 53.2 L158.0 53.2 L158.2 53.2 L158.4 53.2 L158.6 53.2 L158.8 53.2 L159.0 53.1 L159.2 53.1 L159.4 53.1 L159.6 53.1 L159.8 53.1 L160.0 53.1 L160.2 53.1 L160.4 53.1 L160.6 53.1 L160.8 53.1 L161.0 53.1 L161.1 53.0 L161.3 53.0 L161.5 53.0 L161.7 53.0 L161.9 53.0 L162.1 53.0 L162.3 53.0 L162.5 53.0 L162.7 53.0 L162.9 53.0 L163.1 53.0 L163.3 53.0 L163.5 53.0 L163.7 53.0 L163.9 53.0 L164.1 53.0 L164.3 53.0 L164.5 53.0 L164.7 53.0 L164.9 53.0 L165.1 52.9 L165.3 52.9 L165.5 52.9 L165.7 52.9 L165.9 52.9 L166.1 52.9 L166.3 52.9 L166.5 52.9 L166.7 52.9 L166.9 52.9 L167.1 52.9 L167.3 52.9 L167.5 52.9 L167.7 52.9 L167.9 52.9 L168.1 52.9 L168.3 52.9 L168.5 52.9 L168.7 52.9 L168.9 52.9 L169.1 52.9 L169.3 52.9 L169.5 52.9 L169.7 52.9 L169.9 52.9 L170.1 52.9 L170.3 52.9 L170.4 52.9 L170.6 52.9 L170.8 52.9 L171.0 52.9 L171.2 52.9 L171.4 52.9 L171.6 52.9 L171.8 52.9 L172.0 52.9 L172.2 52.9 L172.4 52.9 L172.6 52.9 L172.8 52.9 L173.0 52.9 L173.2 52.9 L173.4 52.9 L173.6 52.9 L173.8 52.9 L174.0 52.8 L174.2 52.8 L174.4 52.8 L174.6 52.8 L174.8 52.8 L175.0 52.8 L175.2 52.8 L175.4 52.8 L175.6 52.8 L175.8 52.8 L176.0 52.8 L176.2 52.8 L176.4 52.8 L176.6 52.8 L176.8 52.8 L177.0 52.8 L177.2 52.8 L177.4 52.8 L177.6 52.8 L177.8 52.8 L178.0 52.8 L178.2 52.8 L178.4 52.8 L178.6 52.8 L178.8 52.8 L179.0 52.8 L179.2 52.8 L179.4 52.8 L179.5 52.8 L179.7 52.8 L179.9 52.8 L180.1 52.8 L180.3 52.8 L180.5 52.8 L180.7 52.8 L180.9 52.8 L181.1 52.8 L181.3 52.8 L181.5 52.8 L181.7 52.8 L181.9 52.8 L182.1 52.8 L182.3 52.8 L182.5 52.8 L182.7 52.8 L182.9 52.8 L183.1 52.8 L183.3 52.8 L183.5 52.8 L183.7 52.8 L183.9 52.8 L184.1 52.8 L184.3 52.8 L184.5 52.8 L188.5 52.8 L192.4 52.8 L196.4 52.8 L200.3 52.8 L204.3 52.8 L208.2 52.8 L212.2 52.8 L216.2 52.8 L220.1 52.8 L224.1 52.8 L228.0 52.8 L232.0 52.8 L235.9 52.8 L239.9 52.8 L243.9 52.8 L247.8 52.8 L251.8 52.8 L255.7 52.8 L259.7 52.8 L263.6 52.8 L267.6 52.8 L271.6 52.8 L275.5 52.8 L279.5 52.8 L283.4 52.8 L287.4 52.8 L291.3 52.8 L295.3 52.8 L299.3 52.8 L303.2 52.8 L307.2 52.8 L311.1 52.8 L315.1 52.8 L319.0 52.8 L323.0 52.8 L323.3 52.8"/>
<path stroke="#d03c3c" d="M26.5 185.7 L26.7 183.3 L26.9 180.8 L27.1 178.7 L27.3 177.0 L27.5 175.5 L27.7 174.4 L27.9 173.6 L28.1 172.9 L28.3 172.5 L28.5 172.3 L28.7 172.2 L28.9 172.3 L29.1 172.6 L29.3 173.0 L29.5 173.5 L29.7 174.2 L29.9 174.9 L30.1 175.6 L30.3 176.3 L30.5 176.9 L30.7 177.6 L30.9 178.2 L31.1 178.8 L31.2 179.4 L31.4 180.0 L31.6 180.4 L31.8 180.9 L32.0 181.3 L32.2 181.6 L32.4 182.0 L32.6 182.2 L32.8 182.5 L33.0 182.7 L33.2 182.9 L33.4 183.1 L33.6 183.2 L33.8 183.3 L34.0 183.4 L34.2 183.5 L34.4 183.5 L34.6 183.6 L34.8 183.6 L35.0 183.6 L35.2 183.6 L35.4 183.6 L35.6 183.6 L35.8 183.6 L36.0 183.5 L36.2 183.4 L36.4 183.4 L36.6 183.3 L36.8 183.3 L37.0 183.2 L37.2 183.2 L37.4 183.1 L37.6 183.1 L37.8 183.0 L38.0 182.9 L38.2 182.9 L38.4 182.8 L38.6 182.8 L38.8 182.7 L39.0 182.6 L39.2 182.6 L39.4 182.6 L39.6 182.5 L39.8 182.5 L40.0 182.5 L40.2 182.4 L40.4 182.4 L40.5 182.4 L40.7 182.4 L40.9 182.3 L41.1 182.3 L41.3 182.3 L41.5 182.3 L41.7 182.2 L41.9 182.2 L42.1 182.2 L42.3 182.2 L42.5 182.2 L42.7 182.2 L42.9 182.2 L43.1 182.1 L43.3 182.1 L43.5 182.1 L43.7 182.1 L43.9 182.1 L44.1 182.1 L44.3 182.1 L44.5 182.1 L44.7 182.1 L44.9 182.1 L45.1 182.1 L45.3 182.1 L45.5 182.1 L45.7 182.1 L45.9 182.1 L46.1 182.1 L46.3 182.1 L46.5 182.1 L46.7 182.1 L46.9 182.0 L47.1 182.0 L47.3 182.0 L47.5 182.0 L47.7 182.0 L47.9 182.0 L48.1 182.0 L48.3 182.0 L48.5 182.0 L48.7 182.0 L48.9 182.0 L49.1 182.0 L49.3 182.0 L49.5 182.0 L49.7 182.0 L49.8 182.0 L50.0 182.0 L50.2 182.0 L54.2 182.0 L58.2 182.0 L62.1 182.0 L66.1 182.0 L70.0 182.0 L74.0 182.0 L77.9 182.0 L81.9 182.0 L85.9 182.0 L89.8 182.0 L93.8 182.0 L97.7 182.0 L101.7 182.0 L105.6 182.0 L109.6 182.0 L113.6 182.0 L117.5 182.0 L121.5 182.0 L125.4 182.0 L129.4 182.0 L133.3 182.0 L137.3 182.0 L141.3 182.0 L145.2 182.0 L145.2 182.0 L145.4 183.2 L145.6 184.3 L145.8 185.3 L146.0 186.2 L146.2 187.1 L146.4 187.9 L146.6 188.6 L146.8 189.3 L147.0 189.9 L147.2 190.5 L147.4 191.0 L147.6 191.5 L147.8 192.0 L148.0 192.4 L148.2 192.8 L148.4 193.1 L148.6 193.5 L148.8 193.8 L149.0 194.0 L149.2 194.3 L149.4 194.5 L149.6 194.8 L149.8 195.0 L150.0 195.2 L150.2 195.3 L150.4 195.5 L150.6 195.6 L150.8 195.8 L151.0 195.9 L151.2 196.0 L151.4 196.1 L151.6 196.2 L151.7 196.3 L151.9 196.4 L152.1 196.5 L152.3 196.5 L152.5 196.6 L152.7 196.7 L152.9 196.7 L153.1 196.8 L153.3 196.8 L153.5 196.9 L153.7 196.9 L153.9 197.0 L154.1 197.0 L154.3 197.0 L154.5 197.0 L154.7 197.1 L154.9 197.1 L155.1 197.1 L155.3 197.1 L155.5 197.2 L155.7 197.2 L155.9 197.2 L156.1 197.2 L156.3 197.2 L156.5 197.2 L156.7 197.3 L156.9 197.3 L157.1 197.3 L157.3 197.3 L157.5 197.3 L157.7 197.3 L157.9 197.3 L158.1 197.3 L158.3 197.3 L158.5 197.3 L158.7 197.3 L158.9 197.3 L159.1 197.4 L159.3 197.4 L159.5 197.4 L159.7 197.4 L159.9 197.4 L160.1 197.4 L160.3 197.4 L160.5 197.4 L160.7 197.4 L160.9 197.4 L161.0 197.4 L161.2 197.4 L161.4 197.4 L161.6 197.4 L161.8 197.4 L162.0 197.4 L162.2 197.4 L162.4 197.4 L162.6 197.4 L162.8 197.4 L163.0 197.4 L163.2 197.4 L163.4 197.4 L163.6 197.4 L163.8 197.4 L164.0 197.4 L164.2 197.4 L164.4 197.4 L164.6 197.4 L164.8 197.4 L165.0 197.4 L165.2 197.4 L165.4 197.4 L165.6 197.4 L165.8 197.4 L166.0 197.4 L166.2 197.4 L166.4 197.4 L166.6 197.4 L166.8 197.4 L167.0 197.4 L167.2 197.4 L167.4 197.4 L167.6 197.4 L167.8 197.4 L168.0 197.4 L168.2 197.4 L168.4 197.4 L168.6 197.4 L168.8 197.4 L169.0 197.4 L169.2 197.4 L169.4 197.4 L169.6 197.4 L169.8 197.4 L170.0 197.4 L170.2 197.4 L170.3 197.4 L170.5 197.4 L170.7 197.4 L170.9 197.4 L171.1 197.4 L171.3 197.4 L171.5 197.4 L171.7 197.4 L171.9 197.4 L172.1 197.4 L172.3 197.4 L172.5 197.4 L172.7 197.4 L172.9 197.4 L173.1 197.4 L173.3 197.4 L173.5 197.4 L173.7 197.4 L173.9 197.4 L174.1 197.4 L174.3 197.4 L174.5 197.4 L174.7 197.4 L174.9 197.4 L175.1 197.4 L175.3 197.4 L175.5 197.4 L175.7 197.4 L175.9 197.4 L176.1 197.4 L176.3 197.4 L176.5 197.4 L176.7 197.4 L176.9 197.4 L177.1 197.4 L177.3 197.4 L177.5 197.4 L177.7 197.4 L177.9 197.4 L178.1 197.4 L178.3 197.4 L178.5 197.4 L178.7 197.4 L178.9 197.4 L179.1 197.4 L179.3 197.4 L179.5 197.4 L179.6 197.4 L179.8 197.4 L180.0 197.4 L180.2 197.4 L180.4 197.4 L180.6 197.4 L180.8 197.4 L181.0 197.4 L181.2 197.4 L181.4 197.4 L181.6 197.4 L181.8 197.4 L182.0 197.4 L182.2 197.4 L182.4 197.4 L182.6 197.4 L182.8 197.4 L183.0 197.4 L183.2 197.4 L183.4 197.4 L183.6 197.4 L183.8 197.4 L184.0 197.4 L184.2 197.4 L184.4 197.4 L184.6 197.4 L184.8 197.4 L188.8 197.4 L192.7 197.4 L196.7 197.4 L200.6 197.4 L204.6 197.4 L208.5 197.4 L212.5 197.4 L216.5 197.4 L220.4 197.4 L224.4 197.4 L228.3 197.4 L232.3 197.4 L236.2 197.4 L240.2 197.4 L244.2 197.4 L248.1 197.4 L252.1 197.4 L256.0 197.4 L260.0 197.4 L263.9 197.4 L267.9 197.4 L271.9 197.4 L275.8 197.4 L279.8 197.4 L283.7 197.4 L287.7 197.4 L291.6 197.4 L295.6 197.4 L299.6 197.4 L303.5 197.4 L307.5 197.4 L311.4 197.4 L315.4 197.4 L319.3 197.4 L323.3 197.4"/>
<path stroke="#58b658" d="M26.5 29.2 L26.7 29.6 L26.9 30.1 L27.1 32.1 L27.3 35.3 L27.5 38.4 L27.7 40.8 L27.9 43.1 L28.1 45.4 L28.3 48.4 L28.5 51.6 L28.7 54.5 L28.9 56.3 L29.1 57.3 L29.3 58.0 L29.5 58.6 L29.7 59.0 L29.9 59.3 L30.1 59.6 L30.3 59.8 L30.5 59.8 L30.7 59.8 L30.9 59.7 L31.1 59.6 L31.2 59.5 L31.4 59.4 L31.6 59.2 L31.8 58.9 L32.0 58.6 L32.2 58.3 L32.4 58.1 L32.6 57.8 L32.8 57.5 L33.0 57.1 L33.2 56.8 L33.4 56.5 L33.6 56.1 L33.8 55.8 L34.0 55.5 L34.2 55.1 L34.4 54.8 L34.6 54.5 L34.8 54.2 L35.0 54.0 L35.2 53.7 L35.4 53.5 L35.6 53.2 L35.8 53.0 L36.0 52.8 L36.2 52.7 L36.4 52.6 L36.6 52.5 L36.8 52.4 L37.0 52.3 L37.2 52.2 L37.4 52.2 L37.6 52.1 L37.8 52.1 L38.0 52.1 L38.2 52.1 L38.4 52.1 L38.6 52.2 L38.8 52.2 L39.0 52.2 L39.2 52.3 L39.4 52.3 L39.6 52.4 L39.8 52.4 L40.0 52.5 L40.2 52.5 L40.4 52.6 L40.5 52.7 L40.7 52.7 L40.9 52.8 L41.1 52.8 L41.3 52.9 L41.5 53.0 L41.7 53.0 L41.9 53.1 L42.1 53.1 L42.3 53.1 L42.5 53.2 L42.7 53.2 L42.9 53.2 L43.1 53.2 L43.3 53.3 L43.5 53.3 L43.7 53.3 L43.9 53.3 L44.1 53.3 L44.3 53.4 L44.5 53.4 L44.7 53.4 L44.9 53.4 L45.1 53.4 L45.3 53.5 L45.5 53.5 L45.7 53.5 L45.9 53.5 L46.1 53.5 L46.3 53.5 L46.5 53.5 L46.7 53.5 L46.9 53.5 L47.1 53.5 L47.3 53.5 L47.5 53.5 L47.7 53.5 L47.9 53.5 L48.1 53.5 L48.3 53.5 L48.5 53.5 L48.7 53.5 L48.9 53.5 L49.1 53.5 L49.3 53.5 L49.5 53.5 L49.7 53.5 L49.8 53.5 L50.0 53.5 L50.2 53.5 L54.2 53.5 L58.2 53.5 L62.1 53.5 L66.1 53.5 L70.0 53.5 L74.0 53.5 L77.9 53.5 L81.9 53.5 L85.9 53.5 L89.8 53.5 L93.8 53.5 L97.7 53.5 L101.7 53.5 L105.6 53.5 L109.6 53.5 L113.6 53.5 L117.5 53.5 L121.5 53.5 L125.4 53.5 L129.4 53.5 L133.3 53.5 L137.3 53.5 L141.3 53.5 L144.9 53.5 L144.9 53.5 L145.1 53.3 L145.3 53.0 L145.5 52.7 L145.7 52.2 L145.9 51.6 L146.1 51.1 L146.3 50.5 L146.5 49.8 L146.7 49.2 L146.9 48.6 L147.1 48.0 L147.3 47.4 L147.5 46.8 L147.7 46.3 L147.9 45.8 L148.1 45.3 L148.3 44.8 L148.5 44.4 L148.7 43.9 L148.9 43.5 L149.1 43.2 L149.3 42.8 L149.5 42.5 L149.7 42.2 L149.9 41.9 L150.1 41.6 L150.3 41.4 L150.5 41.2 L150.7 41.0 L150.9 40.8 L151.1 40.6 L151.3 40.4 L151.5 40.3 L151.7 40.1 L151.8 40.0 L152.0 39.9 L152.2 39.8 L152.4 39.7 L152.6 39.6 L152.8 39.5 L153.0 39.4 L153.2 39.3 L153.4 39.3 L153.6 39.2 L153.8 39.1 L154.0 39.1 L154.2 39.0 L154.4 39.0 L154.6 38.9 L154.8 38.9 L155.0 38.9 L155.2 38.8 L155.4 38.8 L155.6 38.8 L155.8 38.7 L156.0 38.7 L156.2 38.7 L156.4 38.7 L156.6 38.6 L156.8 38.6 L157.0 38.6 L157.2 38.6 L157.4 38.6 L157.6 38.6 L157.8 38.5 L158.0 38.5 L158.2 38.5 L158.4 38.5 L158.6 38.5 L158.8 38.5 L159.0 38.5 L159.2 38.4 L159.4 38.4 L159.6 38.4 L159.8 38.4 L160.0 38.4 L160.2 38.4 L160.4 38.4 L160.6 38.4 L160.8 38.4 L161.0 38.4 L161.1 38.4 L161.3 38.4 L161.5 38.3 L161.7 38.3 L161.9 38.3 L162.1 38.3 L162.3 38.3 L162.5 38.3 L162.7 38.3 L162.9 38.3 L163.1 38.3 L163.3 38.3 L163.5 38.3 L163.7 38.3 L163.9 38.3 L164.1 38.3 L164.3 38.3 L164.5 38.3 L164.7 38.3 L164.9 38.3 L165.1 38.3 L165.3 38.3 L165.5 38.3 L165.7 38.3 L165.9 38.2 L166.1 38.2 L166.3 38.2 L166.5 38.2 L166.7 38.2 L166.9 38.2 L167.1 38.2 L167.3 38.2 L167.5 38.2 L167.7 38.2 L167.9 38.2 L168.1 38.2 L168.3 38.2 L168.5 38.2 L168.7 38.2 L168.9 38.2 L169.1 38.2 L169.3 38.2 L169.5 38.2 L169.7 38.2 L169.9 38.2 L170.1 38.2 L170.3 38.2 L170.4 38.2 L170.6 38.2 L170.8 38.2 L171.0 38.2 L171.2 38.2 L171.4 38.2 L171.6 38.2 L171.8 38.2 L172.0 38.2 L172.2 38.2 L172.4 38.2 L172.6 38.2 L172.8 38.2 L173.0 38.2 L173.2 38.2 L173.4 38.2 L173.6 38.2 L173.8 38.2 L174.0 38.2 L174.2 38.2 L174.4 38.2 L174.6 38.2 L174.8 38.2 L175.0 38.2 L175.2 38.2 L175.4 38.2 L175.6 38.2 L175.8 38.2 L176.0 38.2 L176.2 38.2 L176.4 38.2 L176.6 38.2 L176.8 38.1 L177.0 38.1 L177.2 38.1 L177.4 38.1 L177.6 38.1 L177.8 38.1 L178.0 38.1 L178.2 38.1 L178.4 38.1 L178.6 38.1 L178.8 38.1 L179.0 38.1 L179.2 38.1 L179.4 38.1 L179.5 38.1 L179.7 38.1 L179.9 38.1 L180.1 38.1 L180.3 38.1 L180.5 38.1 L180.7 38.1 L180.9 38.1 L181.1 38.1 L181.3 38.1 L181.5 38.1 L181.7 38.1 L181.9 38.1 L182.1 38.1 L182.3 38.1 L182.5 38.1 L182.7 38.1 L182.9 38.1 L183.1 38.1 L183.3 38.1 L183.5 38.1 L183.7 38.1 L183.9 38.1 L184.1 38.1 L184.3 38.1 L184.5 38.1 L188.5 38.1 L192.4 38.1 L196.4 38.1 L200.3 38.1 L204.3 38.1 L208.2 38.1 L212.2 38.1 L216.2 38.1 L220.1 38.1 L224.1 38.1 L228.0 38.1 L232.0 38.1 L235.9 38.1 L239.9 38.1 L243.9 38.1 L247.8 38.1 L251.8 38.1 L255.7 38.1 L259.7 38.1 L263.6 38.1 L267.6 38.1 L271.6 38.1 L275.5 38.1 L279.5 38.1 L283.4 38.1 L287.4 38.1 L291.3 38.1 L295.3 38.1 L299.3 38.1 L303.2 38.1 L307.2 38.1 L311.1 38.1 L315.1 38.1 L319.0 38.1 L323.0 38.1 L323.3 38.1"/>
</g>
<rect x="26.50" y="25.50" width="297.00" height="184.00" fill="none" stroke="#6a6a6a" stroke-width="1"/>
<path d="M394.39 209.50 V208.30 M394.39 25.50 V26.70 M404.29 209.50 V208.30 M404.29 25.50 V26.70 M414.18 209.50 V208.30 M414.18 25.50 V26.70 M424.07 209.50 V207.30 M424.07 25.50 V27.70 M433.97 209.50 V208.30 M433.97 25.50 V26.70 M443.86 209.50 V208.30 M443.86 25.50 V26.70 M453.75 209.50 V208.30 M453.75 25.50 V26.70 M463.65 209.50 V207.30 M463.65 25.50 V27.70 M473.54 209.50 V208.30 M473.54 25.50 V26.70 M483.43 209.50 V208.30 M483.43 25.50 V26.70 M493.33 209.50 V208.30 M493.33 25.50 V26.70 M503.22 209.50 V207.30 M503.22 25.50 V27.70 M513.11 209.50 V208.30 M513.11 25.50 V26.70 M523.01 209.50 V208.30 M523.01 25.50 V26.70 M532.90 209.50 V208.30 M532.90 25.50 V26.70 M542.79 209.50 V207.30 M542.79 25.50 V27.70 M552.69 209.50 V208.30 M552.69 25.50 V26.70 M562.58 209.50 V208.30 M562.58 25.50 V26.70 M572.47 209.50 V208.30 M572.47 25.50 V26.70 M582.37 209.50 V207.30 M582.37 25.50 V27.70 M592.26 209.50 V208.30 M592.26 25.50 V26.70 M602.15 209.50 V208.30 M602.15 25.50 V26.70 M612.05 209.50 V208.30 M612.05 25.50 V26.70 M621.94 209.50 V207.30 M621.94 25.50 V27.70 M631.83 209.50 V208.30 M631.83 25.50 V26.70 M641.73 209.50 V208.30 M641.73 25.50 V26.70 M651.62 209.50 V208.30 M651.62 25.50 V26.70 M661.51 209.50 V207.30 M661.51 25.50 V27.70 M671.41 209.50 V208.30 M671.41 25.50 V26.70 M384.50 205.40 H386.70 M681.50 205.40 H679.30 M384.50 200.41 H385.70 M681.50 200.41 H680.30 M384.50 195.41 H385.70 M681.50 195.41 H680.30 M384.50 190.41 H385.70 M681.50 190.41 H680.30 M384.50 185.42 H385.70 M681.50 185.42 H680.30 M384.50 180.43 H386.70 M681.50 180.43 H679.30 M384.50 175.43 H385.70 M681.50 175.43 H680.30 M384.50 170.44 H385.70 M681.50 170.44 H680.30 M384.50 165.44 H385.70 M681.50 165.44 H680.30 M384.50 160.45 H385.70 M681.50 160.45 H680.30 M384.50 155.45 H386.70 M681.50 155.45 H679.30 M384.50 150.46 H385.70 M681.50 150.46 H680.30 M384.50 145.46 H385.70 M681.50 145.46 H680.30 M384.50 140.47 H385.70 M681.50 140.47 H680.30 M384.50 135.47 H385.70 M681.50 135.47 H680.30 M384.50 130.47 H386.70 M681.50 130.47 H679.30 M384.50 125.48 H385.70 M681.50 125.48 H680.30 M384.50 120.48 H385.70 M681.50 120.48 H680.30 M384.50 115.49 H385.70 M681.50 115.49 H680.30 M384.50 110.50 H385.70 M681.50 110.50 H680.30 M384.50 105.50 H386.70 M681.50 105.50 H679.30 M384.50 100.51 H385.70 M681.50 100.51 H680.30 M384.50 95.51 H385.70 M681.50 95.51 H680.30 M384.50 90.52 H385.70 M681.50 90.52 H680.30 M384.50 85.52 H385.70 M681.50 85.52 H680.30 M384.50 80.53 H386.70 M681.50 80.53 H679.30 M384.50 75.53 H385.70 M681.50 75.53 H680.30 M384.50 70.53 H385.70 M681.50 70.53 H680.30 M384.50 65.54 H385.70 M681.50 65.54 H680.30 M384.50 60.55 H385.70 M681.50 60.55 H680.30 M384.50 55.55 H386.70 M681.50 55.55 H679.30 M384.50 50.55 H385.70 M681.50 50.55 H680.30 M384.50 45.56 H385.70 M681.50 45.56 H680.30 M384.50 40.56 H385.70 M681.50 40.56 H680.30 M384.50 35.57 H385.70 M681.50 35.57 H680.30 M384.50 30.58 H386.70 M681.50 30.58 H679.30" stroke="#999" stroke-width="0.8" fill="none"/>
<g fill="none" stroke-width="1.60" stroke-linejoin="round">
<path stroke="#c246a0" d="M384.5 103.8 L384.7 104.2 L384.9 104.8 L385.1 106.7 L385.3 109.9 L385.5 113.0 L385.7 115.5 L385.9 117.8 L386.1 120.1 L386.3 122.8 L386.5 125.7 L386.7 128.2 L386.9 129.6 L387.1 130.1 L387.3 130.5 L387.5 130.8 L387.7 131.0 L387.9 131.2 L388.1 131.3 L388.3 131.4 L388.5 131.5 L388.7 131.5 L388.9 131.4 L389.1 131.4 L389.2 131.3 L389.4 131.2 L389.6 131.1 L389.8 131.0 L390.0 130.8 L390.2 130.7 L390.4 130.5 L390.6 130.4 L390.8 130.2 L391.0 130.0 L391.2 129.9 L391.4 129.7 L391.6 129.5 L391.8 129.3 L392.0 129.1 L392.2 129.0 L392.4 128.8 L392.6 128.6 L392.8 128.5 L393.0 128.3 L393.2 128.2 L393.4 128.1 L393.6 128.0 L393.8 127.8 L394.0 127.7 L394.2 127.7 L394.4 127.6 L394.6 127.6 L394.8 127.5 L395.0 127.5 L395.2 127.4 L395.4 127.4 L395.6 127.4 L395.8 127.4 L396.0 127.4 L396.2 127.4 L396.4 127.4 L396.6 127.4 L396.8 127.4 L397.0 127.4 L397.2 127.5 L397.4 127.5 L397.6 127.5 L397.8 127.5 L398.0 127.6 L398.2 127.6 L398.4 127.6 L398.5 127.7 L398.7 127.7 L398.9 127.7 L399.1 127.7 L399.3 127.8 L399.5 127.8 L399.7 127.8 L399.9 127.9 L400.1 127.9 L400.3 127.9 L400.5 127.9 L400.7 127.9 L400.9 128.0 L401.1 128.0 L401.3 128.0 L401.5 128.0 L401.7 128.0 L401.9 128.0 L402.1 128.0 L402.3 128.0 L402.5 128.0 L402.7 128.0 L402.9 128.1 L403.1 128.1 L403.3 128.1 L403.5 128.1 L403.7 128.1 L403.9 128.1 L404.1 128.1 L404.3 128.1 L404.5 128.1 L404.7 128.1 L404.9 128.1 L405.1 128.1 L405.3 128.1 L405.5 128.1 L405.7 128.1 L405.9 128.1 L406.1 128.1 L406.3 128.1 L406.5 128.1 L406.7 128.1 L406.9 128.1 L407.1 128.1 L407.3 128.1 L407.5 128.1 L407.7 128.1 L407.8 128.1 L408.0 128.1 L408.2 128.1 L412.2 128.1 L416.2 128.1 L420.1 128.1 L424.1 128.1 L428.0 128.1 L432.0 128.1 L435.9 128.1 L439.9 128.1 L443.9 128.1 L447.8 128.1 L451.8 128.1 L455.7 128.1 L459.7 128.1 L463.6 128.1 L467.6 128.1 L471.6 128.1 L475.5 128.1 L479.5 128.1 L483.4 128.1 L487.4 128.1 L491.3 128.1 L495.3 128.1 L499.3 128.1 L502.7 128.1 L502.7 128.1 L502.9 127.9 L503.1 127.6 L503.3 127.2 L503.5 126.6 L503.7 126.0 L503.9 125.3 L504.1 124.6 L504.3 123.8 L504.5 123.1 L504.7 122.3 L504.9 121.5 L505.1 120.8 L505.3 120.0 L505.5 119.3 L505.7 118.5 L505.9 117.9 L506.1 117.2 L506.3 116.5 L506.5 115.9 L506.7 115.3 L506.9 114.8 L507.1 114.2 L507.3 113.7 L507.5 113.3 L507.7 112.8 L507.9 112.4 L508.1 112.0 L508.3 111.6 L508.5 111.2 L508.7 110.9 L508.9 110.6 L509.1 110.3 L509.3 110.0 L509.5 109.7 L509.7 109.5 L509.8 109.2 L510.0 109.0 L510.2 108.8 L510.4 108.6 L510.6 108.4 L510.8 108.3 L511.0 108.1 L511.2 108.0 L511.4 107.8 L511.6 107.7 L511.8 107.6 L512.0 107.5 L512.2 107.4 L512.4 107.3 L512.6 107.2 L512.8 107.1 L513.0 107.0 L513.2 106.9 L513.4 106.8 L513.6 106.8 L513.8 106.7 L514.0 106.6 L514.2 106.6 L514.4 106.5 L514.6 106.5 L514.8 106.4 L515.0 106.4 L515.2 106.3 L515.4 106.3 L515.6 106.3 L515.8 106.2 L516.0 106.2 L516.2 106.2 L516.4 106.1 L516.6 106.1 L516.8 106.1 L517.0 106.0 L517.2 106.0 L517.4 106.0 L517.6 106.0 L517.8 105.9 L518.0 105.9 L518.2 105.9 L518.4 105.9 L518.6 105.9 L518.8 105.8 L519.0 105.8 L519.1 105.8 L519.3 105.8 L519.5 105.8 L519.7 105.8 L519.9 105.7 L520.1 105.7 L520.3 105.7 L520.5 105.7 L520.7 105.7 L520.9 105.7 L521.1 105.7 L521.3 105.6 L521.5 105.6 L521.7 105.6 L521.9 105.6 L522.1 105.6 L522.3 105.6 L522.5 105.6 L522.7 105.6 L522.9 105.6 L523.1 105.5 L523.3 105.5 L523.5 105.5 L523.7 105.5 L523.9 105.5 L524.1 105.5 L524.3 105.5 L524.5 105.5 L524.7 105.5 L524.9 105.5 L525.1 105.5 L525.3 105.5 L525.5 105.4 L525.7 105.4 L525.9 105.4 L526.1 105.4 L526.3 105.4 L526.5 105.4 L526.7 105.4 L526.9 105.4 L527.1 105.4 L527.3 105.4 L527.5 105.4 L527.7 105.4 L527.9 105.4 L528.1 105.4 L528.3 105.4 L528.4 105.4 L528.6 105.4 L528.8 105.3 L529.0 105.3 L529.2 105.3 L529.4 105.3 L529.6 105.3 L529.8 105.3 L530.0 105.3 L530.2 105.3 L530.4 105.3 L530.6 105.3 L530.8 105.3 L531.0 105.3 L531.2 105.3 L531.4 105.3 L531.6 105.3 L531.8 105.3 L532.0 105.3 L532.2 105.3 L532.4 105.3 L532.6 105.3 L532.8 105.3 L533.0 105.3 L533.2 105.3 L533.4 105.3 L533.6 105.3 L533.8 105.2 L534.0 105.2 L534.2 105.2 L534.4 105.2 L534.6 105.2 L534.8 105.2 L535.0 105.2 L535.2 105.2 L535.4 105.2 L535.6 105.2 L535.8 105.2 L536.0 105.2 L536.2 105.2 L536.4 105.2 L536.6 105.2 L536.8 105.2 L537.0 105.2 L537.2 105.2 L537.4 105.2 L537.5 105.2 L537.7 105.2 L537.9 105.2 L538.1 105.2 L538.3 105.2 L538.5 105.2 L538.7 105.2 L538.9 105.2 L539.1 105.2 L539.3 105.2 L539.5 105.2 L539.7 105.2 L539.9 105.2 L540.1 105.2 L540.3 105.2 L540.5 105.2 L540.7 105.2 L540.9 105.2 L541.1 105.2 L541.3 105.2 L541.5 105.2 L541.7 105.2 L541.9 105.2 L542.1 105.2 L542.3 105.2 L546.3 105.1 L550.2 105.1 L554.2 105.1 L558.1 105.1 L562.1 105.1 L566.0 105.1 L570.0 105.1 L574.0 105.1 L577.9 105.1 L581.9 105.1 L585.8 105.1 L589.8 105.1 L593.7 105.1 L597.7 105.1 L601.7 105.1 L605.6 105.1 L609.6 105.1 L613.5 105.1 L617.5 105.1 L621.4 105.1 L625.4 105.1 L629.4 105.1 L633.3 105.1 L637.3 105.1 L641.2 105.1 L645.2 105.1 L649.1 105.1 L653.1 105.1 L657.1 105.1 L661.0 105.1 L665.0 105.1 L668.9 105.1 L672.9 105.1 L676.8 105.1 L680.8 105.1 L681.3 105.1"/>
<path stroke="#5045a4" d="M384.5 88.8 L384.7 89.2 L384.9 89.8 L385.1 91.7 L385.3 95.0 L385.5 98.0 L385.7 100.5 L385.9 102.7 L386.1 105.1 L386.3 107.9 L386.5 110.9 L386.7 113.5 L386.9 115.1 L387.1 115.7 L387.3 116.2 L387.5 116.6 L387.7 116.9 L387.9 117.1 L388.1 117.3 L388.3 117.4 L388.5 117.5 L388.7 117.5 L388.9 117.4 L389.1 117.3 L389.2 117.3 L389.4 117.2 L389.6 117.0 L389.8 116.8 L390.0 116.7 L390.2 116.5 L390.4 116.3 L390.6 116.1 L390.8 115.8 L391.0 115.6 L391.2 115.4 L391.4 115.2 L391.6 114.9 L391.8 114.7 L392.0 114.5 L392.2 114.2 L392.4 114.0 L392.6 113.8 L392.8 113.6 L393.0 113.4 L393.2 113.3 L393.4 113.1 L393.6 112.9 L393.8 112.8 L394.0 112.7 L394.2 112.6 L394.4 112.5 L394.6 112.4 L394.8 112.4 L395.0 112.3 L395.2 112.3 L395.4 112.2 L395.6 112.2 L395.8 112.2 L396.0 112.2 L396.2 112.2 L396.4 112.2 L396.6 112.2 L396.8 112.2 L397.0 112.3 L397.2 112.3 L397.4 112.3 L397.6 112.4 L397.8 112.4 L398.0 112.4 L398.2 112.5 L398.4 112.5 L398.5 112.5 L398.7 112.6 L398.9 112.6 L399.1 112.7 L399.3 112.7 L399.5 112.7 L399.7 112.8 L399.9 112.8 L400.1 112.8 L400.3 112.9 L400.5 112.9 L400.7 112.9 L400.9 112.9 L401.1 112.9 L401.3 113.0 L401.5 113.0 L401.7 113.0 L401.9 113.0 L402.1 113.0 L402.3 113.0 L402.5 113.0 L402.7 113.1 L402.9 113.1 L403.1 113.1 L403.3 113.1 L403.5 113.1 L403.7 113.1 L403.9 113.1 L404.1 113.1 L404.3 113.1 L404.5 113.1 L404.7 113.1 L404.9 113.1 L405.1 113.1 L405.3 113.1 L405.5 113.1 L405.7 113.1 L405.9 113.1 L406.1 113.1 L406.3 113.1 L406.5 113.1 L406.7 113.1 L406.9 113.1 L407.1 113.1 L407.3 113.1 L407.5 113.1 L407.7 113.1 L407.8 113.1 L408.0 113.1 L408.2 113.1 L412.2 113.1 L416.2 113.1 L420.1 113.1 L424.1 113.1 L428.0 113.1 L432.0 113.1 L435.9 113.1 L439.9 113.1 L443.9 113.1 L447.8 113.1 L451.8 113.1 L455.7 113.1 L459.7 113.1 L463.6 113.1 L467.6 113.1 L471.6 113.1 L475.5 113.1 L479.5 113.1 L483.4 113.1 L487.4 113.1 L491.3 113.1 L495.3 113.1 L499.3 113.1 L502.7 113.1 L502.7 113.1 L502.9 112.9 L503.1 112.6 L503.3 112.2 L503.5 111.6 L503.7 111.0 L503.9 110.3 L504.1 109.6 L504.3 108.8 L504.5 108.1 L504.7 107.3 L504.9 106.5 L505.1 105.8 L505.3 105.0 L505.5 104.3 L505.7 103.5 L505.9 102.8 L506.1 102.2 L506.3 101.5 L506.5 100.9 L506.7 100.3 L506.9 99.8 L507.1 99.2 L507.3 98.7 L507.5 98.2 L507.7 97.8 L507.9 97.4 L508.1 96.9 L508.3 96.6 L508.5 96.2 L508.7 95.9 L508.9 95.5 L509.1 95.2 L509.3 95.0 L509.5 94.7 L509.7 94.4 L509.8 94.2 L510.0 94.0 L510.2 93.8 L510.4 93.6 L510.6 93.4 L510.8 93.2 L511.0 93.1 L511.2 92.9 L511.4 92.8 L511.6 92.7 L511.8 92.5 L512.0 92.4 L512.2 92.3 L512.4 92.2 L512.6 92.1 L512.8 92.0 L513.0 92.0 L513.2 91.9 L513.4 91.8 L513.6 91.7 L513.8 91.7 L514.0 91.6 L514.2 91.6 L514.4 91.5 L514.6 91.4 L514.8 91.4 L515.0 91.4 L515.2 91.3 L515.4 91.3 L515.6 91.2 L515.8 91.2 L516.0 91.2 L516.2 91.1 L516.4 91.1 L516.6 91.1 L516.8 91.0 L517.0 91.0 L517.2 91.0 L517.4 91.0 L517.6 90.9 L517.8 90.9 L518.0 90.9 L518.2 90.9 L518.4 90.8 L518.6 90.8 L518.8 90.8 L519.0 90.8 L519.1 90.8 L519.3 90.8 L519.5 90.7 L519.7 90.7 L519.9 90.7 L520.1 90.7 L520.3 90.7 L520.5 90.7 L520.7 90.6 L520.9 90.6 L521.1 90.6 L521.3 90.6 L521.5 90.6 L521.7 90.6 L521.9 90.6 L522.1 90.6 L522.3 90.6 L522.5 90.5 L522.7 90.5 L522.9 90.5 L523.1 90.5 L523.3 90.5 L523.5 90.5 L523.7 90.5 L523.9 90.5 L524.1 90.5 L524.3 90.5 L524.5 90.5 L524.7 90.4 L524.9 90.4 L525.1 90.4 L525.3 90.4 L525.5 90.4 L525.7 90.4 L525.9 90.4 L526.1 90.4 L526.3 90.4 L526.5 90.4 L526.7 90.4 L526.9 90.4 L527.1 90.4 L527.3 90.4 L527.5 90.3 L527.7 90.3 L527.9 90.3 L528.1 90.3 L528.3 90.3 L528.4 90.3 L528.6 90.3 L528.8 90.3 L529.0 90.3 L529.2 90.3 L529.4 90.3 L529.6 90.3 L529.8 90.3 L530.0 90.3 L530.2 90.3 L530.4 90.3 L530.6 90.3 L530.8 90.3 L531.0 90.3 L531.2 90.3 L531.4 90.3 L531.6 90.3 L531.8 90.2 L532.0 90.2 L532.2 90.2 L532.4 90.2 L532.6 90.2 L532.8 90.2 L533.0 90.2 L533.2 90.2 L533.4 90.2 L533.6 90.2 L533.8 90.2 L534.0 90.2 L534.2 90.2 L534.4 90.2 L534.6 90.2 L534.8 90.2 L535.0 90.2 L535.2 90.2 L535.4 90.2 L535.6 90.2 L535.8 90.2 L536.0 90.2 L536.2 90.2 L536.4 90.2 L536.6 90.2 L536.8 90.2 L537.0 90.2 L537.2 90.2 L537.4 90.2 L537.5 90.2 L537.7 90.2 L537.9 90.2 L538.1 90.2 L538.3 90.2 L538.5 90.2 L538.7 90.2 L538.9 90.2 L539.1 90.2 L539.3 90.2 L539.5 90.1 L539.7 90.1 L539.9 90.1 L540.1 90.1 L540.3 90.1 L540.5 90.1 L540.7 90.1 L540.9 90.1 L541.1 90.1 L541.3 90.1 L541.5 90.1 L541.7 90.1 L541.9 90.1 L542.1 90.1 L542.3 90.1 L546.3 90.1 L550.2 90.1 L554.2 90.1 L558.1 90.1 L562.1 90.1 L566.0 90.1 L570.0 90.1 L574.0 90.1 L577.9 90.1 L581.9 90.1 L585.8 90.1 L589.8 90.1 L593.7 90.1 L597.7 90.1 L601.7 90.1 L605.6 90.1 L609.6 90.1 L613.5 90.1 L617.5 90.1 L621.4 90.1 L625.4 90.1 L629.4 90.1 L633.3 90.1 L637.3 90.1 L641.2 90.1 L645.2 90.1 L649.1 90.1 L653.1 90.1 L657.1 90.1 L661.0 90.1 L665.0 90.1 L668.9 90.1 L672.9 90.1 L676.8 90.1 L680.8 90.1 L681.3 90.1"/>
<path stroke="#3574c4" d="M384.5 73.8 L384.7 74.2 L384.9 74.8 L385.1 76.7 L385.3 80.0 L385.5 83.1 L385.7 85.5 L385.9 87.7 L386.1 90.1 L386.3 92.9 L386.5 96.1 L386.7 98.9 L386.9 100.5 L387.1 101.3 L387.3 102.0 L387.5 102.4 L387.7 102.7 L387.9 103.0 L388.1 103.3 L388.3 103.4 L388.5 103.5 L388.7 103.5 L388.9 103.4 L389.1 103.3 L389.2 103.2 L389.4 103.1 L389.6 102.9 L389.8 102.7 L390.0 102.5 L390.2 102.2 L390.4 102.0 L390.6 101.7 L390.8 101.5 L391.0 101.2 L391.2 100.9 L391.4 100.6 L391.6 100.4 L391.8 100.1 L392.0 99.8 L392.2 99.5 L392.4 99.2 L392.6 99.0 L392.8 98.8 L393.0 98.5 L393.2 98.3 L393.4 98.1 L393.6 97.9 L393.8 97.7 L394.0 97.6 L394.2 97.4 L394.4 97.4 L394.6 97.3 L394.8 97.2 L395.0 97.1 L395.2 97.1 L395.4 97.0 L395.6 97.0 L395.8 97.0 L396.0 97.0 L396.2 97.0 L396.4 97.0 L396.6 97.0 L396.8 97.1 L397.0 97.1 L397.2 97.1 L397.4 97.2 L397.6 97.2 L397.8 97.3 L398.0 97.3 L398.2 97.3 L398.4 97.4 L398.5 97.4 L398.7 97.5 L398.9 97.5 L399.1 97.6 L399.3 97.6 L399.5 97.7 L399.7 97.7 L399.9 97.8 L400.1 97.8 L400.3 97.8 L400.5 97.9 L400.7 97.9 L400.9 97.9 L401.1 97.9 L401.3 97.9 L401.5 98.0 L401.7 98.0 L401.9 98.0 L402.1 98.0 L402.3 98.0 L402.5 98.0 L402.7 98.1 L402.9 98.1 L403.1 98.1 L403.3 98.1 L403.5 98.1 L403.7 98.1 L403.9 98.1 L404.1 98.1 L404.3 98.1 L404.5 98.1 L404.7 98.1 L404.9 98.1 L405.1 98.1 L405.3 98.1 L405.5 98.1 L405.7 98.1 L405.9 98.1 L406.1 98.1 L406.3 98.1 L406.5 98.1 L406.7 98.1 L406.9 98.1 L407.1 98.1 L407.3 98.1 L407.5 98.1 L407.7 98.1 L407.8 98.1 L408.0 98.1 L408.2 98.1 L412.2 98.1 L416.2 98.1 L420.1 98.1 L424.1 98.1 L428.0 98.1 L432.0 98.1 L435.9 98.1 L439.9 98.1 L443.9 98.1 L447.8 98.1 L451.8 98.1 L455.7 98.1 L459.7 98.1 L463.6 98.1 L467.6 98.1 L471.6 98.1 L475.5 98.1 L479.5 98.1 L483.4 98.1 L487.4 98.1 L491.3 98.1 L495.3 98.1 L499.3 98.1 L502.7 98.1 L502.7 98.1 L502.9 97.9 L503.1 97.6 L503.3 97.2 L503.5 96.6 L503.7 96.0 L503.9 95.3 L504.1 94.6 L504.3 93.8 L504.5 93.1 L504.7 92.3 L504.9 91.5 L505.1 90.7 L505.3 90.0 L505.5 89.2 L505.7 88.5 L505.9 87.8 L506.1 87.1 L506.3 86.5 L506.5 85.9 L506.7 85.3 L506.9 84.7 L507.1 84.2 L507.3 83.7 L507.5 83.2 L507.7 82.7 L507.9 82.3 L508.1 81.9 L508.3 81.5 L508.5 81.1 L508.7 80.8 L508.9 80.5 L509.1 80.2 L509.3 79.9 L509.5 79.6 L509.7 79.4 L509.8 79.1 L510.0 78.9 L510.2 78.7 L510.4 78.5 L510.6 78.3 L510.8 78.2 L511.0 78.0 L511.2 77.9 L511.4 77.7 L511.6 77.6 L511.8 77.5 L512.0 77.4 L512.2 77.2 L512.4 77.1 L512.6 77.1 L512.8 77.0 L513.0 76.9 L513.2 76.8 L513.4 76.7 L513.6 76.7 L513.8 76.6 L514.0 76.5 L514.2 76.5 L514.4 76.4 L514.6 76.4 L514.8 76.3 L515.0 76.3 L515.2 76.2 L515.4 76.2 L515.6 76.1 L515.8 76.1 L516.0 76.1 L516.2 76.0 L516.4 76.0 L516.6 76.0 L516.8 76.0 L517.0 75.9 L517.2 75.9 L517.4 75.9 L517.6 75.8 L517.8 75.8 L518.0 75.8 L518.2 75.8 L518.4 75.8 L518.6 75.7 L518.8 75.7 L519.0 75.7 L519.1 75.7 L519.3 75.7 L519.5 75.7 L519.7 75.6 L519.9 75.6 L520.1 75.6 L520.3 75.6 L520.5 75.6 L520.7 75.6 L520.9 75.6 L521.1 75.5 L521.3 75.5 L521.5 75.5 L521.7 75.5 L521.9 75.5 L522.1 75.5 L522.3 75.5 L522.5 75.5 L522.7 75.4 L522.9 75.4 L523.1 75.4 L523.3 75.4 L523.5 75.4 L523.7 75.4 L523.9 75.4 L524.1 75.4 L524.3 75.4 L524.5 75.4 L524.7 75.4 L524.9 75.4 L525.1 75.3 L525.3 75.3 L525.5 75.3 L525.7 75.3 L525.9 75.3 L526.1 75.3 L526.3 75.3 L526.5 75.3 L526.7 75.3 L526.9 75.3 L527.1 75.3 L527.3 75.3 L527.5 75.3 L527.7 75.3 L527.9 75.3 L528.1 75.2 L528.3 75.2 L528.4 75.2 L528.6 75.2 L528.8 75.2 L529.0 75.2 L529.2 75.2 L529.4 75.2 L529.6 75.2 L529.8 75.2 L530.0 75.2 L530.2 75.2 L530.4 75.2 L530.6 75.2 L530.8 75.2 L531.0 75.2 L531.2 75.2 L531.4 75.2 L531.6 75.2 L531.8 75.2 L532.0 75.2 L532.2 75.2 L532.4 75.2 L532.6 75.1 L532.8 75.1 L533.0 75.1 L533.2 75.1 L533.4 75.1 L533.6 75.1 L533.8 75.1 L534.0 75.1 L534.2 75.1 L534.4 75.1 L534.6 75.1 L534.8 75.1 L535.0 75.1 L535.2 75.1 L535.4 75.1 L535.6 75.1 L535.8 75.1 L536.0 75.1 L536.2 75.1 L536.4 75.1 L536.6 75.1 L536.8 75.1 L537.0 75.1 L537.2 75.1 L537.4 75.1 L537.5 75.1 L537.7 75.1 L537.9 75.1 L538.1 75.1 L538.3 75.1 L538.5 75.1 L538.7 75.1 L538.9 75.1 L539.1 75.1 L539.3 75.1 L539.5 75.1 L539.7 75.1 L539.9 75.1 L540.1 75.1 L540.3 75.1 L540.5 75.1 L540.7 75.1 L540.9 75.1 L541.1 75.1 L541.3 75.1 L541.5 75.0 L541.7 75.0 L541.9 75.0 L542.1 75.0 L542.3 75.0 L546.3 75.0 L550.2 75.0 L554.2 75.0 L558.1 75.0 L562.1 75.0 L566.0 75.0 L570.0 75.0 L574.0 75.0 L577.9 75.0 L581.9 75.0 L585.8 75.0 L589.8 75.0 L593.7 75.0 L597.7 75.0 L601.7 75.0 L605.6 75.0 L609.6 75.0 L613.5 75.0 L617.5 75.0 L621.4 75.0 L625.4 75.0 L629.4 75.0 L633.3 75.0 L637.3 75.0 L641.2 75.0 L645.2 75.0 L649.1 75.0 L653.1 75.0 L657.1 75.0 L661.0 75.0 L665.0 75.0 L668.9 75.0 L672.9 75.0 L676.8 75.0 L680.8 75.0 L681.3 75.0"/>
<path stroke="#44b0ea" d="M384.5 58.8 L384.7 59.3 L384.9 59.8 L385.1 61.7 L385.3 65.0 L385.5 68.1 L385.7 70.5 L385.9 72.7 L386.1 75.1 L386.3 78.0 L386.5 81.2 L386.7 84.1 L386.9 85.8 L387.1 86.7 L387.3 87.4 L387.5 87.9 L387.7 88.3 L387.9 88.6 L388.1 88.9 L388.3 89.0 L388.5 89.1 L388.7 89.1 L388.9 89.0 L389.1 88.9 L389.2 88.8 L389.4 88.7 L389.6 88.5 L389.8 88.2 L390.0 88.0 L390.2 87.7 L390.4 87.4 L390.6 87.2 L390.8 86.9 L391.0 86.6 L391.2 86.3 L391.4 85.9 L391.6 85.6 L391.8 85.3 L392.0 85.0 L392.2 84.7 L392.4 84.4 L392.6 84.1 L392.8 83.8 L393.0 83.6 L393.2 83.4 L393.4 83.1 L393.6 82.9 L393.8 82.7 L394.0 82.5 L394.2 82.4 L394.4 82.3 L394.6 82.2 L394.8 82.1 L395.0 82.1 L395.2 82.0 L395.4 81.9 L395.6 81.9 L395.8 81.9 L396.0 81.9 L396.2 81.9 L396.4 81.9 L396.6 81.9 L396.8 81.9 L397.0 82.0 L397.2 82.0 L397.4 82.1 L397.6 82.1 L397.8 82.2 L398.0 82.2 L398.2 82.3 L398.4 82.3 L398.5 82.4 L398.7 82.4 L398.9 82.5 L399.1 82.5 L399.3 82.6 L399.5 82.7 L399.7 82.7 L399.9 82.7 L400.1 82.8 L400.3 82.8 L400.5 82.9 L400.7 82.9 L400.9 82.9 L401.1 82.9 L401.3 82.9 L401.5 83.0 L401.7 83.0 L401.9 83.0 L402.1 83.0 L402.3 83.0 L402.5 83.0 L402.7 83.1 L402.9 83.1 L403.1 83.1 L403.3 83.1 L403.5 83.1 L403.7 83.1 L403.9 83.1 L404.1 83.1 L404.3 83.1 L404.5 83.1 L404.7 83.1 L404.9 83.1 L405.1 83.1 L405.3 83.1 L405.5 83.1 L405.7 83.1 L405.9 83.1 L406.1 83.1 L406.3 83.1 L406.5 83.1 L406.7 83.1 L406.9 83.1 L407.1 83.1 L407.3 83.1 L407.5 83.1 L407.7 83.1 L407.8 83.1 L408.0 83.1 L408.2 83.1 L412.2 83.1 L416.2 83.1 L420.1 83.1 L424.1 83.1 L428.0 83.1 L432.0 83.1 L435.9 83.1 L439.9 83.1 L443.9 83.1 L447.8 83.1 L451.8 83.1 L455.7 83.1 L459.7 83.1 L463.6 83.1 L467.6 83.1 L471.6 83.1 L475.5 83.1 L479.5 83.1 L483.4 83.1 L487.4 83.1 L491.3 83.1 L495.3 83.1 L499.3 83.1 L502.7 83.1 L502.7 83.1 L502.9 83.0 L503.1 82.6 L503.3 82.2 L503.5 81.6 L503.7 81.0 L503.9 80.3 L504.1 79.6 L504.3 78.8 L504.5 78.1 L504.7 77.3 L504.9 76.5 L505.1 75.7 L505.3 75.0 L505.5 74.2 L505.7 73.5 L505.9 72.8 L506.1 72.1 L506.3 71.5 L506.5 70.8 L506.7 70.2 L506.9 69.7 L507.1 69.1 L507.3 68.6 L507.5 68.1 L507.7 67.7 L507.9 67.2 L508.1 66.8 L508.3 66.4 L508.5 66.1 L508.7 65.7 L508.9 65.4 L509.1 65.1 L509.3 64.8 L509.5 64.6 L509.7 64.3 L509.8 64.1 L510.0 63.9 L510.2 63.6 L510.4 63.5 L510.6 63.3 L510.8 63.1 L511.0 62.9 L511.2 62.8 L511.4 62.6 L511.6 62.5 L511.8 62.4 L512.0 62.3 L512.2 62.2 L512.4 62.1 L512.6 62.0 L512.8 61.9 L513.0 61.8 L513.2 61.7 L513.4 61.6 L513.6 61.6 L513.8 61.5 L514.0 61.5 L514.2 61.4 L514.4 61.3 L514.6 61.3 L514.8 61.2 L515.0 61.2 L515.2 61.1 L515.4 61.1 L515.6 61.1 L515.8 61.0 L516.0 61.0 L516.2 61.0 L516.4 60.9 L516.6 60.9 L516.8 60.9 L517.0 60.8 L517.2 60.8 L517.4 60.8 L517.6 60.8 L517.8 60.7 L518.0 60.7 L518.2 60.7 L518.4 60.7 L518.6 60.7 L518.8 60.6 L519.0 60.6 L519.1 60.6 L519.3 60.6 L519.5 60.6 L519.7 60.6 L519.9 60.5 L520.1 60.5 L520.3 60.5 L520.5 60.5 L520.7 60.5 L520.9 60.5 L521.1 60.5 L521.3 60.4 L521.5 60.4 L521.7 60.4 L521.9 60.4 L522.1 60.4 L522.3 60.4 L522.5 60.4 L522.7 60.4 L522.9 60.4 L523.1 60.3 L523.3 60.3 L523.5 60.3 L523.7 60.3 L523.9 60.3 L524.1 60.3 L524.3 60.3 L524.5 60.3 L524.7 60.3 L524.9 60.3 L525.1 60.3 L525.3 60.3 L525.5 60.2 L525.7 60.2 L525.9 60.2 L526.1 60.2 L526.3 60.2 L526.5 60.2 L526.7 60.2 L526.9 60.2 L527.1 60.2 L527.3 60.2 L527.5 60.2 L527.7 60.2 L527.9 60.2 L528.1 60.2 L528.3 60.2 L528.4 60.2 L528.6 60.1 L528.8 60.1 L529.0 60.1 L529.2 60.1 L529.4 60.1 L529.6 60.1 L529.8 60.1 L530.0 60.1 L530.2 60.1 L530.4 60.1 L530.6 60.1 L530.8 60.1 L531.0 60.1 L531.2 60.1 L531.4 60.1 L531.6 60.1 L531.8 60.1 L532.0 60.1 L532.2 60.1 L532.4 60.1 L532.6 60.1 L532.8 60.1 L533.0 60.1 L533.2 60.1 L533.4 60.1 L533.6 60.0 L533.8 60.0 L534.0 60.0 L534.2 60.0 L534.4 60.0 L534.6 60.0 L534.8 60.0 L535.0 60.0 L535.2 60.0 L535.4 60.0 L535.6 60.0 L535.8 60.0 L536.0 60.0 L536.2 60.0 L536.4 60.0 L536.6 60.0 L536.8 60.0 L537.0 60.0 L537.2 60.0 L537.4 60.0 L537.5 60.0 L537.7 60.0 L537.9 60.0 L538.1 60.0 L538.3 60.0 L538.5 60.0 L538.7 60.0 L538.9 60.0 L539.1 60.0 L539.3 60.0 L539.5 60.0 L539.7 60.0 L539.9 60.0 L540.1 60.0 L540.3 60.0 L540.5 60.0 L540.7 60.0 L540.9 60.0 L541.1 60.0 L541.3 60.0 L541.5 60.0 L541.7 60.0 L541.9 60.0 L542.1 60.0 L542.3 60.0 L546.3 59.9 L550.2 59.9 L554.2 59.9 L558.1 59.9 L562.1 59.9 L566.0 59.9 L570.0 59.9 L574.0 59.9 L577.9 59.9 L581.9 59.9 L585.8 59.9 L589.8 59.9 L593.7 59.9 L597.7 59.9 L601.7 59.9 L605.6 59.9 L609.6 59.9 L613.5 59.9 L617.5 59.9 L621.4 59.9 L625.4 59.9 L629.4 59.9 L633.3 59.9 L637.3 59.9 L641.2 59.9 L645.2 59.9 L649.1 59.9 L653.1 59.9 L657.1 59.9 L661.0 59.9 L665.0 59.9 L668.9 59.9 L672.9 59.9 L676.8 59.9 L680.8 59.9 L681.3 59.9"/>
<path stroke="#40a25e" d="M384.5 43.9 L384.7 44.3 L384.9 44.8 L385.1 46.8 L385.3 50.0 L385.5 53.1 L385.7 55.5 L385.9 57.8 L386.1 60.1 L386.3 63.0 L386.5 66.2 L386.7 69.1 L386.9 70.8 L387.1 71.7 L387.3 72.4 L387.5 72.9 L387.7 73.3 L387.9 73.6 L388.1 73.9 L388.3 74.1 L388.5 74.1 L388.7 74.1 L388.9 74.0 L389.1 73.9 L389.2 73.8 L389.4 73.7 L389.6 73.5 L389.8 73.3 L390.0 73.0 L390.2 72.7 L390.4 72.5 L390.6 72.2 L390.8 71.9 L391.0 71.6 L391.2 71.3 L391.4 71.0 L391.6 70.7 L391.8 70.3 L392.0 70.0 L392.2 69.7 L392.4 69.4 L392.6 69.1 L392.8 68.9 L393.0 68.6 L393.2 68.4 L393.4 68.1 L393.6 67.9 L393.8 67.7 L394.0 67.5 L394.2 67.4 L394.4 67.3 L394.6 67.2 L394.8 67.1 L395.0 67.1 L395.2 67.0 L395.4 67.0 L395.6 66.9 L395.8 66.9 L396.0 66.9 L396.2 66.9 L396.4 66.9 L396.6 66.9 L396.8 67.0 L397.0 67.0 L397.2 67.1 L397.4 67.1 L397.6 67.1 L397.8 67.2 L398.0 67.2 L398.2 67.3 L398.4 67.3 L398.5 67.4 L398.7 67.4 L398.9 67.5 L399.1 67.6 L399.3 67.6 L399.5 67.7 L399.7 67.7 L399.9 67.8 L400.1 67.8 L400.3 67.8 L400.5 67.9 L400.7 67.9 L400.9 67.9 L401.1 67.9 L401.3 68.0 L401.5 68.0 L401.7 68.0 L401.9 68.0 L402.1 68.0 L402.3 68.0 L402.5 68.1 L402.7 68.1 L402.9 68.1 L403.1 68.1 L403.3 68.1 L403.5 68.1 L403.7 68.1 L403.9 68.1 L404.1 68.1 L404.3 68.1 L404.5 68.1 L404.7 68.1 L404.9 68.1 L405.1 68.1 L405.3 68.1 L405.5 68.1 L405.7 68.1 L405.9 68.1 L406.1 68.1 L406.3 68.1 L406.5 68.1 L406.7 68.1 L406.9 68.1 L407.1 68.1 L407.3 68.1 L407.5 68.1 L407.7 68.1 L407.8 68.1 L408.0 68.1 L408.2 68.1 L412.2 68.1 L416.2 68.1 L420.1 68.1 L424.1 68.1 L428.0 68.1 L432.0 68.1 L435.9 68.1 L439.9 68.1 L443.9 68.1 L447.8 68.1 L451.8 68.1 L455.7 68.1 L459.7 68.1 L463.6 68.1 L467.6 68.1 L471.6 68.1 L475.5 68.1 L479.5 68.1 L483.4 68.1 L487.4 68.1 L491.3 68.1 L495.3 68.1 L499.3 68.1 L502.7 68.1 L502.7 68.1 L502.9 68.0 L503.1 67.7 L503.3 67.2 L503.5 66.6 L503.7 66.0 L503.9 65.3 L504.1 64.6 L504.3 63.8 L504.5 63.0 L504.7 62.3 L504.9 61.5 L505.1 60.7 L505.3 59.9 L505.5 59.2 L505.7 58.5 L505.9 57.8 L506.1 57.1 L506.3 56.4 L506.5 55.8 L506.7 55.2 L506.9 54.6 L507.1 54.1 L507.3 53.6 L507.5 53.1 L507.7 52.6 L507.9 52.2 L508.1 51.8 L508.3 51.4 L508.5 51.0 L508.7 50.7 L508.9 50.4 L509.1 50.0 L509.3 49.8 L509.5 49.5 L509.7 49.2 L509.8 49.0 L510.0 48.8 L510.2 48.6 L510.4 48.4 L510.6 48.2 L510.8 48.0 L511.0 47.9 L511.2 47.7 L511.4 47.6 L511.6 47.4 L511.8 47.3 L512.0 47.2 L512.2 47.1 L512.4 47.0 L512.6 46.9 L512.8 46.8 L513.0 46.7 L513.2 46.6 L513.4 46.6 L513.6 46.5 L513.8 46.4 L514.0 46.4 L514.2 46.3 L514.4 46.3 L514.6 46.2 L514.8 46.2 L515.0 46.1 L515.2 46.1 L515.4 46.0 L515.6 46.0 L515.8 46.0 L516.0 45.9 L516.2 45.9 L516.4 45.8 L516.6 45.8 L516.8 45.8 L517.0 45.8 L517.2 45.7 L517.4 45.7 L517.6 45.7 L517.8 45.7 L518.0 45.6 L518.2 45.6 L518.4 45.6 L518.6 45.6 L518.8 45.6 L519.0 45.5 L519.1 45.5 L519.3 45.5 L519.5 45.5 L519.7 45.5 L519.9 45.5 L520.1 45.4 L520.3 45.4 L520.5 45.4 L520.7 45.4 L520.9 45.4 L521.1 45.4 L521.3 45.4 L521.5 45.3 L521.7 45.3 L521.9 45.3 L522.1 45.3 L522.3 45.3 L522.5 45.3 L522.7 45.3 L522.9 45.3 L523.1 45.3 L523.3 45.3 L523.5 45.2 L523.7 45.2 L523.9 45.2 L524.1 45.2 L524.3 45.2 L524.5 45.2 L524.7 45.2 L524.9 45.2 L525.1 45.2 L525.3 45.2 L525.5 45.2 L525.7 45.2 L525.9 45.1 L526.1 45.1 L526.3 45.1 L526.5 45.1 L526.7 45.1 L526.9 45.1 L527.1 45.1 L527.3 45.1 L527.5 45.1 L527.7 45.1 L527.9 45.1 L528.1 45.1 L528.3 45.1 L528.4 45.1 L528.6 45.1 L528.8 45.1 L529.0 45.1 L529.2 45.1 L529.4 45.0 L529.6 45.0 L529.8 45.0 L530.0 45.0 L530.2 45.0 L530.4 45.0 L530.6 45.0 L530.8 45.0 L531.0 45.0 L531.2 45.0 L531.4 45.0 L531.6 45.0 L531.8 45.0 L532.0 45.0 L532.2 45.0 L532.4 45.0 L532.6 45.0 L532.8 45.0 L533.0 45.0 L533.2 45.0 L533.4 45.0 L533.6 45.0 L533.8 45.0 L534.0 45.0 L534.2 45.0 L534.4 45.0 L534.6 45.0 L534.8 44.9 L535.0 44.9 L535.2 44.9 L535.4 44.9 L535.6 44.9 L535.8 44.9 L536.0 44.9 L536.2 44.9 L536.4 44.9 L536.6 44.9 L536.8 44.9 L537.0 44.9 L537.2 44.9 L537.4 44.9 L537.5 44.9 L537.7 44.9 L537.9 44.9 L538.1 44.9 L538.3 44.9 L538.5 44.9 L538.7 44.9 L538.9 44.9 L539.1 44.9 L539.3 44.9 L539.5 44.9 L539.7 44.9 L539.9 44.9 L540.1 44.9 L540.3 44.9 L540.5 44.9 L540.7 44.9 L540.9 44.9 L541.1 44.9 L541.3 44.9 L541.5 44.9 L541.7 44.9 L541.9 44.9 L542.1 44.9 L542.3 44.9 L546.3 44.9 L550.2 44.8 L554.2 44.8 L558.1 44.8 L562.1 44.8 L566.0 44.8 L570.0 44.8 L574.0 44.8 L577.9 44.8 L581.9 44.8 L585.8 44.8 L589.8 44.8 L593.7 44.8 L597.7 44.8 L601.7 44.8 L605.6 44.8 L609.6 44.8 L613.5 44.8 L617.5 44.8 L621.4 44.8 L625.4 44.8 L629.4 44.8 L633.3 44.8 L637.3 44.8 L641.2 44.8 L645.2 44.8 L649.1 44.8 L653.1 44.8 L657.1 44.8 L661.0 44.8 L665.0 44.8 L668.9 44.8 L672.9 44.8 L676.8 44.8 L680.8 44.8 L681.3 44.8"/>
<path stroke="#d03c3c" d="M384.5 185.7 L384.7 183.3 L384.9 180.8 L385.1 178.7 L385.3 177.0 L385.5 175.5 L385.7 174.4 L385.9 173.6 L386.1 172.9 L386.3 172.5 L386.5 172.3 L386.7 172.2 L386.9 172.3 L387.1 172.6 L387.3 173.0 L387.5 173.5 L387.7 174.2 L387.9 174.9 L388.1 175.6 L388.3 176.3 L388.5 176.9 L388.7 177.6 L388.9 178.2 L389.1 178.8 L389.2 179.4 L389.4 180.0 L389.6 180.4 L389.8 180.9 L390.0 181.3 L390.2 181.6 L390.4 182.0 L390.6 182.2 L390.8 182.5 L391.0 182.7 L391.2 182.9 L391.4 183.1 L391.6 183.2 L391.8 183.3 L392.0 183.4 L392.2 183.5 L392.4 183.5 L392.6 183.6 L392.8 183.6 L393.0 183.6 L393.2 183.6 L393.4 183.6 L393.6 183.6 L393.8 183.6 L394.0 183.5 L394.2 183.4 L394.4 183.4 L394.6 183.3 L394.8 183.3 L395.0 183.2 L395.2 183.2 L395.4 183.1 L395.6 183.1 L395.8 183.0 L396.0 182.9 L396.2 182.9 L396.4 182.8 L396.6 182.8 L396.8 182.7 L397.0 182.6 L397.2 182.6 L397.4 182.6 L397.6 182.5 L397.8 182.5 L398.0 182.5 L398.2 182.4 L398.4 182.4 L398.5 182.4 L398.7 182.4 L398.9 182.3 L399.1 182.3 L399.3 182.3 L399.5 182.3 L399.7 182.2 L399.9 182.2 L400.1 182.2 L400.3 182.2 L400.5 182.2 L400.7 182.2 L400.9 182.2 L401.1 182.1 L401.3 182.1 L401.5 182.1 L401.7 182.1 L401.9 182.1 L402.1 182.1 L402.3 182.1 L402.5 182.1 L402.7 182.1 L402.9 182.1 L403.1 182.1 L403.3 182.1 L403.5 182.1 L403.7 182.1 L403.9 182.1 L404.1 182.1 L404.3 182.1 L404.5 182.1 L404.7 182.1 L404.9 182.0 L405.1 182.0 L405.3 182.0 L405.5 182.0 L405.7 182.0 L405.9 182.0 L406.1 182.0 L406.3 182.0 L406.5 182.0 L406.7 182.0 L406.9 182.0 L407.1 182.0 L407.3 182.0 L407.5 182.0 L407.7 182.0 L407.8 182.0 L408.0 182.0 L408.2 182.0 L412.2 182.0 L416.2 182.0 L420.1 182.0 L424.1 182.0 L428.0 182.0 L432.0 182.0 L435.9 182.0 L439.9 182.0 L443.9 182.0 L447.8 182.0 L451.8 182.0 L455.7 182.0 L459.7 182.0 L463.6 182.0 L467.6 182.0 L471.6 182.0 L475.5 182.0 L479.5 182.0 L483.4 182.0 L487.4 182.0 L491.3 182.0 L495.3 182.0 L499.3 182.0 L503.0 182.0 L503.0 182.0 L503.2 183.5 L503.4 184.9 L503.6 186.3 L503.8 187.5 L504.0 188.6 L504.2 189.7 L504.4 190.7 L504.6 191.6 L504.8 192.5 L505.0 193.3 L505.2 194.0 L505.4 194.7 L505.6 195.4 L505.8 196.0 L506.0 196.5 L506.2 197.1 L506.4 197.5 L506.6 198.0 L506.8 198.4 L507.0 198.8 L507.2 199.2 L507.4 199.6 L507.6 199.9 L507.8 200.2 L508.0 200.5 L508.2 200.7 L508.4 201.0 L508.6 201.2 L508.8 201.4 L509.0 201.6 L509.2 201.8 L509.4 202.0 L509.6 202.2 L509.7 202.3 L509.9 202.5 L510.1 202.6 L510.3 202.7 L510.5 202.8 L510.7 202.9 L510.9 203.1 L511.1 203.1 L511.3 203.2 L511.5 203.3 L511.7 203.4 L511.9 203.5 L512.1 203.6 L512.3 203.6 L512.5 203.7 L512.7 203.7 L512.9 203.8 L513.1 203.8 L513.3 203.9 L513.5 203.9 L513.7 204.0 L513.9 204.0 L514.1 204.1 L514.3 204.1 L514.5 204.1 L514.7 204.2 L514.9 204.2 L515.1 204.2 L515.3 204.3 L515.5 204.3 L515.7 204.3 L515.9 204.3 L516.1 204.3 L516.3 204.4 L516.5 204.4 L516.7 204.4 L516.9 204.4 L517.1 204.4 L517.3 204.5 L517.5 204.5 L517.7 204.5 L517.9 204.5 L518.1 204.5 L518.3 204.5 L518.5 204.5 L518.7 204.6 L518.9 204.6 L519.0 204.6 L519.2 204.6 L519.4 204.6 L519.6 204.6 L519.8 204.6 L520.0 204.6 L520.2 204.6 L520.4 204.6 L520.6 204.6 L520.8 204.7 L521.0 204.7 L521.2 204.7 L521.4 204.7 L521.6 204.7 L521.8 204.7 L522.0 204.7 L522.2 204.7 L522.4 204.7 L522.6 204.7 L522.8 204.7 L523.0 204.7"/>
<path stroke="#58b658" d="M384.5 29.2 L384.7 29.6 L384.9 30.1 L385.1 32.1 L385.3 35.3 L385.5 38.4 L385.7 40.8 L385.9 43.1 L386.1 45.4 L386.3 48.4 L386.5 51.6 L386.7 54.5 L386.9 56.3 L387.1 57.3 L387.3 58.0 L387.5 58.6 L387.7 59.0 L387.9 59.3 L388.1 59.6 L388.3 59.8 L388.5 59.8 L388.7 59.8 L388.9 59.7 L389.1 59.6 L389.2 59.5 L389.4 59.4 L389.6 59.2 L389.8 58.9 L390.0 58.6 L390.2 58.3 L390.4 58.1 L390.6 57.8 L390.8 57.5 L391.0 57.1 L391.2 56.8 L391.4 56.5 L391.6 56.1 L391.8 55.8 L392.0 55.5 L392.2 55.1 L392.4 54.8 L392.6 54.5 L392.8 54.2 L393.0 54.0 L393.2 53.7 L393.4 53.5 L393.6 53.2 L393.8 53.0 L394.0 52.8 L394.2 52.7 L394.4 52.6 L394.6 52.5 L394.8 52.4 L395.0 52.3 L395.2 52.2 L395.4 52.2 L395.6 52.1 L395.8 52.1 L396.0 52.1 L396.2 52.1 L396.4 52.1 L396.6 52.2 L396.8 52.2 L397.0 52.2 L397.2 52.3 L397.4 52.3 L397.6 52.4 L397.8 52.4 L398.0 52.5 L398.2 52.5 L398.4 52.6 L398.5 52.7 L398.7 52.7 L398.9 52.8 L399.1 52.8 L399.3 52.9 L399.5 53.0 L399.7 53.0 L399.9 53.1 L400.1 53.1 L400.3 53.1 L400.5 53.2 L400.7 53.2 L400.9 53.2 L401.1 53.2 L401.3 53.3 L401.5 53.3 L401.7 53.3 L401.9 53.3 L402.1 53.3 L402.3 53.4 L402.5 53.4 L402.7 53.4 L402.9 53.4 L403.1 53.4 L403.3 53.5 L403.5 53.5 L403.7 53.5 L403.9 53.5 L404.1 53.5 L404.3 53.5 L404.5 53.5 L404.7 53.5 L404.9 53.5 L405.1 53.5 L405.3 53.5 L405.5 53.5 L405.7 53.5 L405.9 53.5 L406.1 53.5 L406.3 53.5 L406.5 53.5 L406.7 53.5 L406.9 53.5 L407.1 53.5 L407.3 53.5 L407.5 53.5 L407.7 53.5 L407.8 53.5 L408.0 53.5 L408.2 53.5 L412.2 53.5 L416.2 53.5 L420.1 53.5 L424.1 53.5 L428.0 53.5 L432.0 53.5 L435.9 53.5 L439.9 53.5 L443.9 53.5 L447.8 53.5 L451.8 53.5 L455.7 53.5 L459.7 53.5 L463.6 53.5 L467.6 53.5 L471.6 53.5 L475.5 53.5 L479.5 53.5 L483.4 53.5 L487.4 53.5 L491.3 53.5 L495.3 53.5 L499.3 53.5 L502.7 53.5 L502.7 205.0 L502.9 205.0 L503.1 205.0 L503.3 205.0 L503.5 205.0 L503.7 205.0 L503.9 205.0 L504.1 205.0 L504.3 205.0 L504.5 205.0 L504.7 205.0 L504.9 205.0 L505.1 205.0 L505.3 205.0 L505.5 205.0 L505.7 205.0 L505.9 205.0 L506.1 205.0 L506.3 205.0 L506.5 205.0 L506.7 205.0 L506.9 205.0 L507.1 205.0 L507.3 205.0 L507.5 205.0 L507.7 205.0 L507.9 205.0 L508.1 205.0 L508.3 205.0 L508.5 205.0 L508.7 205.0 L508.9 205.0 L509.1 205.0 L509.3 205.0 L509.5 205.0 L509.7 205.0 L509.8 205.0 L510.0 205.0 L510.2 205.0 L510.4 205.0 L510.6 205.0 L510.8 205.0 L511.0 205.0 L511.2 205.0 L511.4 205.0 L511.6 205.0 L511.8 205.0 L512.0 205.0 L512.2 205.0 L512.4 205.0 L512.6 205.0 L512.8 205.0 L513.0 205.0 L513.2 205.0 L513.4 205.0 L513.6 205.0 L513.8 205.0 L514.0 205.0 L514.2 205.0 L514.4 205.0 L514.6 205.0 L514.8 205.0 L515.0 205.0 L515.2 205.0 L515.4 205.0 L515.6 205.0 L515.8 205.0 L516.0 205.0 L516.2 205.0 L516.4 205.0 L516.6 205.0 L516.8 205.0 L517.0 205.0 L517.2 205.0 L517.4 205.0 L517.6 205.0 L517.8 205.0 L518.0 205.0 L518.2 205.0 L518.4 205.0 L518.6 205.0 L518.8 205.0 L519.0 205.0 L519.1 205.0 L519.3 205.0 L519.5 205.0 L519.7 205.0 L519.9 205.0 L520.1 205.0 L520.3 205.0 L520.5 205.0 L520.7 205.0 L520.9 205.0 L521.1 205.0 L521.3 205.0 L521.5 205.0 L521.7 205.0 L521.9 205.0 L522.1 205.0 L522.3 205.0 L522.5 205.0 L522.7 205.0 L522.9 205.0 L523.1 205.0 L523.3 205.0 L523.5 205.0 L523.7 205.0 L523.9 205.0 L524.1 205.0 L524.3 205.0 L524.5 205.0 L524.7 205.0 L524.9 205.0 L525.1 205.0 L525.3 205.0 L525.5 205.0 L525.7 205.0 L525.9 205.0 L526.1 205.0 L526.3 205.0 L526.5 205.0 L526.7 205.0 L526.9 205.0 L527.1 205.0 L527.3 205.0 L527.5 205.0 L527.7 205.0 L527.9 205.0 L528.1 205.0 L528.3 205.0 L528.4 205.0 L528.6 205.0 L528.8 205.0 L529.0 205.0 L529.2 205.0 L529.4 205.0 L529.6 205.0 L529.8 205.0 L530.0 205.0 L530.2 205.0 L530.4 205.0 L530.6 205.0 L530.8 205.0 L531.0 205.0 L531.2 205.0 L531.4 205.0 L531.6 205.0 L531.8 205.0 L532.0 205.0 L532.2 205.0 L532.4 205.0 L532.6 205.0 L532.8 205.0 L533.0 205.0 L533.2 205.0 L533.4 205.0 L533.6 205.0 L533.8 205.0 L534.0 205.0 L534.2 205.0 L534.4 205.0 L534.6 205.0 L534.8 205.0 L535.0 205.0 L535.2 205.0 L535.4 205.0 L535.6 205.0 L535.8 205.0 L536.0 205.0 L536.2 205.0 L536.4 205.0 L536.6 205.0 L536.8 205.0 L537.0 205.0 L537.2 205.0 L537.4 205.0 L537.5 205.0 L537.7 205.0 L537.9 205.0 L538.1 205.0 L538.3 205.0 L538.5 205.0 L538.7 205.0 L538.9 205.0 L539.1 205.0 L539.3 205.0 L539.5 205.0 L539.7 205.0 L539.9 205.0 L540.1 205.0 L540.3 205.0 L540.5 205.0 L540.7 205.0 L540.9 205.0 L541.1 205.0 L541.3 205.0 L541.5 205.0 L541.7 205.0 L541.9 205.0 L542.1 205.0 L542.3 205.0 L546.3 205.0 L550.2 205.0 L554.2 205.0 L558.1 205.0 L562.1 205.0 L566.0 205.0 L570.0 205.0 L574.0 205.0 L577.9 205.0 L581.9 205.0 L585.8 205.0 L589.8 205.0 L593.7 205.0 L597.7 205.0 L601.7 205.0 L605.6 205.0 L609.6 205.0 L613.5 205.0 L617.5 205.0 L621.4 205.0 L625.4 205.0 L629.4 205.0 L633.3 205.0 L637.3 205.0 L641.2 205.0 L645.2 205.0 L649.1 205.0 L653.1 205.0 L657.1 205.0 L661.0 205.0 L665.0 205.0 L668.9 205.0 L672.9 205.0 L676.8 205.0 L680.8 205.0 L681.3 205.0"/>
</g>
<rect x="384.50" y="25.50" width="297.00" height="184.00" fill="none" stroke="#6a6a6a" stroke-width="1"/>
<text class="tl" x="25.40" y="209.90" text-anchor="end">0</text>
<text class="tl" x="25.40" y="184.93" text-anchor="end">25</text>
<text class="tl" x="25.40" y="159.95" text-anchor="end">50</text>
<text class="tl" x="25.40" y="134.97" text-anchor="end">75</text>
<text class="tl" x="25.40" y="110.00" text-anchor="end">100</text>
<text class="tl" x="25.40" y="85.03" text-anchor="end">125</text>
<text class="tl" x="25.40" y="60.05" text-anchor="end">150</text>
<text class="tl" x="25.40" y="35.08" text-anchor="end">175</text>
<text class="tl" x="66.67" y="221.60" text-anchor="middle">200</text>
<text class="tl" x="106.25" y="221.60" text-anchor="middle">400</text>
<text class="tl" x="145.82" y="221.60" text-anchor="middle">600</text>
<text class="tl" x="185.39" y="221.60" text-anchor="middle">800</text>
<text class="tl" x="224.97" y="221.60" text-anchor="middle">1000</text>
<text class="tl" x="264.54" y="221.60" text-anchor="middle">1200</text>
<text class="tl" x="304.11" y="221.60" text-anchor="middle">1400</text>
<text class="tl" x="383.40" y="209.90" text-anchor="end">0</text>
<text class="tl" x="383.40" y="184.93" text-anchor="end">25</text>
<text class="tl" x="383.40" y="159.95" text-anchor="end">50</text>
<text class="tl" x="383.40" y="134.97" text-anchor="end">75</text>
<text class="tl" x="383.40" y="110.00" text-anchor="end">100</text>
<text class="tl" x="383.40" y="85.03" text-anchor="end">125</text>
<text class="tl" x="383.40" y="60.05" text-anchor="end">150</text>
<text class="tl" x="383.40" y="35.08" text-anchor="end">175</text>
<text class="tl" x="424.67" y="221.60" text-anchor="middle">200</text>
<text class="tl" x="464.25" y="221.60" text-anchor="middle">400</text>
<text class="tl" x="503.82" y="221.60" text-anchor="middle">600</text>
<text class="tl" x="543.39" y="221.60" text-anchor="middle">800</text>
<text class="tl" x="582.97" y="221.60" text-anchor="middle">1000</text>
<text class="tl" x="622.54" y="221.60" text-anchor="middle">1200</text>
<text class="tl" x="662.11" y="221.60" text-anchor="middle">1400</text>
<text class="hl" transform="translate(267.70 45.50) scale(1.08 1)">H<tspan class="sb" dx="-1.4" dy="3.0">6</tspan></text>
<text class="hl" transform="translate(250.90 61.20) scale(1.08 1)">H<tspan class="sb" dx="-1.4" dy="3.0">5</tspan></text>
<text class="hl" transform="translate(234.00 75.60) scale(1.08 1)">H<tspan class="sb" dx="-1.4" dy="3.0">4</tspan></text>
<text class="hl" transform="translate(216.90 91.30) scale(1.08 1)">H<tspan class="sb" dx="-1.4" dy="3.0">3</tspan></text>
<text class="hl" transform="translate(199.60 107.40) scale(1.08 1)">H<tspan class="sb" dx="-1.4" dy="3.0">2</tspan></text>
<text class="hl" transform="translate(150.00 135.80) scale(1.08 1)">H<tspan class="sb" dx="-1.4" dy="3.0">1</tspan></text>
<text class="hl" transform="translate(439.70 47.90) scale(1.08 1)">H<tspan class="sb" dx="-1.4" dy="3.0">6</tspan></text>
<text class="hl" transform="translate(607.70 54.00) scale(1.08 1)">H<tspan class="sb" dx="-1.4" dy="3.0">5</tspan></text>
<text class="hl" transform="translate(590.70 69.50) scale(1.08 1)">H<tspan class="sb" dx="-1.4" dy="3.0">4</tspan></text>
<text class="hl" transform="translate(574.50 83.90) scale(1.08 1)">H<tspan class="sb" dx="-1.4" dy="3.0">3</tspan></text>
<text class="hl" transform="translate(557.90 99.40) scale(1.08 1)">H<tspan class="sb" dx="-1.4" dy="3.0">2</tspan></text>
<text class="hl" transform="translate(540.90 113.40) scale(1.08 1)">H<tspan class="sb" dx="-1.4" dy="3.0">1</tspan></text>
<text class="hl" transform="translate(87.00 177.50) scale(1.08 1)">P</text>
<text class="hl" transform="translate(442.30 176.50) scale(1.08 1)">P</text>
<text class="ti" x="179.3" y="11.8" text-anchor="middle">(a)</text>
<text class="ti" x="530.0" y="11.8" text-anchor="middle">(b)</text>
<text class="xl" transform="translate(179.3 245.5) scale(1 1.12)" text-anchor="middle">time</text>
<text class="xl" transform="translate(538.0 245.5) scale(1 1.12)" text-anchor="middle">time</text>
</svg>
</body></html>
